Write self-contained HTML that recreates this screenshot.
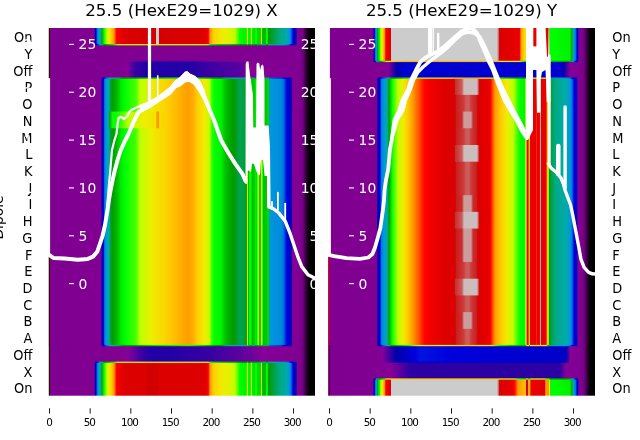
<!DOCTYPE html>
<html><head><meta charset="utf-8"><style>
html,body{margin:0;padding:0;background:#fff;}
svg{display:block;will-change:transform;}
.t{font-family:"DejaVu Sans","Liberation Sans",sans-serif;font-size:13.89px;fill:#000;}
.w{font-family:"DejaVu Sans","Liberation Sans",sans-serif;font-size:13.89px;fill:#fff;}
.xs{font-family:"DejaVu Sans","Liberation Sans",sans-serif;font-size:10.4px;fill:#000;letter-spacing:-1px;}
.ti{font-family:"DejaVu Sans","Liberation Sans",sans-serif;font-size:16.67px;fill:#000;}
</style></head><body>
<svg width="640" height="440" viewBox="0 0 640 440">
<defs>
<clipPath id="cL"><rect x="48" y="28" width="267" height="367.7"/></clipPath>
<clipPath id="cR"><rect x="328" y="28" width="267" height="367.7"/></clipPath>
<linearGradient id="Ld" gradientUnits="userSpaceOnUse" x1="48" y1="0" x2="315" y2="0"><stop offset="0.0000" stop-color="#ffc100"/><stop offset="0.0037" stop-color="#ffc100"/><stop offset="0.0037" stop-color="#ffc900"/><stop offset="0.0037" stop-color="#efed00"/><stop offset="0.0038" stop-color="#bcff00"/><stop offset="0.0038" stop-color="#00ff00"/><stop offset="0.0038" stop-color="#00dc00"/><stop offset="0.0038" stop-color="#00bc00"/><stop offset="0.0038" stop-color="#009a00"/><stop offset="0.0038" stop-color="#00aa88"/><stop offset="0.0038" stop-color="#00aaab"/><stop offset="0.0038" stop-color="#0098dd"/><stop offset="0.0038" stop-color="#0078dd"/><stop offset="0.0038" stop-color="#0000dd"/><stop offset="0.0038" stop-color="#0000bd"/><stop offset="0.0075" stop-color="#0000bd"/><stop offset="0.0075" stop-color="#0300aa"/><stop offset="0.0075" stop-color="#870098"/><stop offset="0.0075" stop-color="#7f0090"/><stop offset="0.1966" stop-color="#810092"/><stop offset="0.1982" stop-color="#870098"/><stop offset="0.2022" stop-color="#0300aa"/><stop offset="0.2022" stop-color="#0300aa"/><stop offset="0.2079" stop-color="#0000dd"/><stop offset="0.2119" stop-color="#0078dd"/><stop offset="0.2135" stop-color="#0085dd"/><stop offset="0.2182" stop-color="#0098dd"/><stop offset="0.2228" stop-color="#00a3bf"/><stop offset="0.2249" stop-color="#00aaab"/><stop offset="0.2301" stop-color="#00aa88"/><stop offset="0.2322" stop-color="#00a353"/><stop offset="0.2406" stop-color="#009a00"/><stop offset="0.2434" stop-color="#009f00"/><stop offset="0.2584" stop-color="#00bc00"/><stop offset="0.2691" stop-color="#00dc00"/><stop offset="0.2734" stop-color="#00ea00"/><stop offset="0.2884" stop-color="#00ff00"/><stop offset="0.2884" stop-color="#00ff00"/><stop offset="0.3296" stop-color="#49ff00"/><stop offset="0.3446" stop-color="#bcff00"/><stop offset="0.3745" stop-color="#dcf400"/><stop offset="0.3920" stop-color="#efed00"/><stop offset="0.4007" stop-color="#f1e700"/><stop offset="0.4382" stop-color="#fbd500"/><stop offset="0.4569" stop-color="#ffc900"/><stop offset="0.4757" stop-color="#ffbd00"/><stop offset="0.5056" stop-color="#ffa900"/><stop offset="0.5243" stop-color="#ff9d00"/><stop offset="0.5431" stop-color="#ffad00"/><stop offset="0.5571" stop-color="#ffc900"/><stop offset="0.5618" stop-color="#fcd200"/><stop offset="0.5880" stop-color="#efed00"/><stop offset="0.5880" stop-color="#efed00"/><stop offset="0.6030" stop-color="#c4fc00"/><stop offset="0.6052" stop-color="#bcff00"/><stop offset="0.6142" stop-color="#2cff00"/><stop offset="0.6255" stop-color="#00ff00"/><stop offset="0.6479" stop-color="#00f200"/><stop offset="0.6550" stop-color="#00dc00"/><stop offset="0.6667" stop-color="#00bc00"/><stop offset="0.6891" stop-color="#009f00"/><stop offset="0.6966" stop-color="#009a00"/><stop offset="0.7191" stop-color="#00a353"/><stop offset="0.7397" stop-color="#009f33"/><stop offset="0.7416" stop-color="#009a00"/><stop offset="0.7434" stop-color="#00a700"/><stop offset="0.7439" stop-color="#00bc00"/><stop offset="0.7446" stop-color="#00dc00"/><stop offset="0.7452" stop-color="#00ff00"/><stop offset="0.7459" stop-color="#bcff00"/><stop offset="0.7466" stop-color="#efed00"/><stop offset="0.7472" stop-color="#fcd200"/><stop offset="0.7478" stop-color="#efed00"/><stop offset="0.7486" stop-color="#bcff00"/><stop offset="0.7494" stop-color="#00ff00"/><stop offset="0.7502" stop-color="#00dc00"/><stop offset="0.7509" stop-color="#00bc00"/><stop offset="0.7528" stop-color="#00dc00"/><stop offset="0.7547" stop-color="#00ff00"/><stop offset="0.7603" stop-color="#00ff00"/><stop offset="0.7622" stop-color="#00dc00"/><stop offset="0.7640" stop-color="#00bc00"/><stop offset="0.7715" stop-color="#00ca00"/><stop offset="0.7749" stop-color="#00dc00"/><stop offset="0.7772" stop-color="#00ea00"/><stop offset="0.7828" stop-color="#00dc00"/><stop offset="0.7842" stop-color="#00ff00"/><stop offset="0.7856" stop-color="#bcff00"/><stop offset="0.7870" stop-color="#efed00"/><stop offset="0.7873" stop-color="#f1e700"/><stop offset="0.7875" stop-color="#efed00"/><stop offset="0.7888" stop-color="#bcff00"/><stop offset="0.7901" stop-color="#00ff00"/><stop offset="0.7914" stop-color="#00dc00"/><stop offset="0.7921" stop-color="#00ca00"/><stop offset="0.7970" stop-color="#00dc00"/><stop offset="0.7979" stop-color="#00ff00"/><stop offset="0.7987" stop-color="#bcff00"/><stop offset="0.7996" stop-color="#efed00"/><stop offset="0.8004" stop-color="#ffc900"/><stop offset="0.8007" stop-color="#ffb500"/><stop offset="0.8011" stop-color="#ffc900"/><stop offset="0.8019" stop-color="#efed00"/><stop offset="0.8027" stop-color="#bcff00"/><stop offset="0.8036" stop-color="#00ff00"/><stop offset="0.8044" stop-color="#00dc00"/><stop offset="0.8052" stop-color="#00bc00"/><stop offset="0.8202" stop-color="#00ca00"/><stop offset="0.8227" stop-color="#00dc00"/><stop offset="0.8251" stop-color="#00f200"/><stop offset="0.8256" stop-color="#00dc00"/><stop offset="0.8264" stop-color="#00bc00"/><stop offset="0.8272" stop-color="#009a00"/><stop offset="0.8280" stop-color="#00aa88"/><stop offset="0.8288" stop-color="#00aaab"/><stop offset="0.8296" stop-color="#0098dd"/><stop offset="0.8296" stop-color="#0098dd"/><stop offset="0.8727" stop-color="#008add"/><stop offset="0.8811" stop-color="#0078dd"/><stop offset="0.8951" stop-color="#0000dd"/><stop offset="0.9064" stop-color="#0000d1"/><stop offset="0.9109" stop-color="#0300aa"/><stop offset="0.9165" stop-color="#870098"/><stop offset="0.9176" stop-color="#850096"/><stop offset="0.9363" stop-color="#810092"/><stop offset="0.9476" stop-color="#7b008c"/><stop offset="0.9543" stop-color="#700080"/><stop offset="0.9588" stop-color="#5d006b"/><stop offset="0.9700" stop-color="#1c0020"/><stop offset="0.9813" stop-color="#000000"/><stop offset="1.0000" stop-color="#000000"/></linearGradient>
<linearGradient id="LdN" gradientUnits="userSpaceOnUse" x1="48" y1="0" x2="315" y2="0"><stop offset="0.0000" stop-color="#ffc100"/><stop offset="0.0037" stop-color="#ffc100"/><stop offset="0.0037" stop-color="#ffc900"/><stop offset="0.0037" stop-color="#efed00"/><stop offset="0.0038" stop-color="#bcff00"/><stop offset="0.0038" stop-color="#00ff00"/><stop offset="0.0038" stop-color="#00dc00"/><stop offset="0.0038" stop-color="#00bc00"/><stop offset="0.0038" stop-color="#009a00"/><stop offset="0.0038" stop-color="#00aa88"/><stop offset="0.0038" stop-color="#00aaab"/><stop offset="0.0038" stop-color="#0098dd"/><stop offset="0.0038" stop-color="#0078dd"/><stop offset="0.0038" stop-color="#0000dd"/><stop offset="0.0038" stop-color="#0000bd"/><stop offset="0.0075" stop-color="#0000bd"/><stop offset="0.0075" stop-color="#0300aa"/><stop offset="0.0075" stop-color="#870098"/><stop offset="0.0075" stop-color="#7f0090"/><stop offset="0.1966" stop-color="#810092"/><stop offset="0.1982" stop-color="#870098"/><stop offset="0.2022" stop-color="#0300aa"/><stop offset="0.2022" stop-color="#0300aa"/><stop offset="0.2079" stop-color="#0000dd"/><stop offset="0.2119" stop-color="#0078dd"/><stop offset="0.2135" stop-color="#0085dd"/><stop offset="0.2191" stop-color="#0098dd"/><stop offset="0.2247" stop-color="#00a3bf"/><stop offset="0.2258" stop-color="#00aaab"/><stop offset="0.2286" stop-color="#00aa88"/><stop offset="0.2313" stop-color="#009a00"/><stop offset="0.2341" stop-color="#00bc00"/><stop offset="0.2369" stop-color="#00dc00"/><stop offset="0.2397" stop-color="#00ff00"/><stop offset="0.2397" stop-color="#00ff00"/><stop offset="0.2697" stop-color="#2cff00"/><stop offset="0.2921" stop-color="#93ff00"/><stop offset="0.3034" stop-color="#bcff00"/><stop offset="0.3258" stop-color="#d0f800"/><stop offset="0.3633" stop-color="#efed00"/><stop offset="0.3633" stop-color="#efed00"/><stop offset="0.4045" stop-color="#f5df00"/><stop offset="0.4056" stop-color="#ffc900"/><stop offset="0.4075" stop-color="#ff9900"/><stop offset="0.4139" stop-color="#ff9900"/><stop offset="0.4160" stop-color="#ffc900"/><stop offset="0.4169" stop-color="#f8da00"/><stop offset="0.4382" stop-color="#fbd500"/><stop offset="0.4569" stop-color="#ffc900"/><stop offset="0.4757" stop-color="#ffbd00"/><stop offset="0.5056" stop-color="#ffa900"/><stop offset="0.5243" stop-color="#ff9d00"/><stop offset="0.5431" stop-color="#ffad00"/><stop offset="0.5571" stop-color="#ffc900"/><stop offset="0.5618" stop-color="#fcd200"/><stop offset="0.5880" stop-color="#efed00"/><stop offset="0.5880" stop-color="#efed00"/><stop offset="0.6030" stop-color="#c4fc00"/><stop offset="0.6052" stop-color="#bcff00"/><stop offset="0.6142" stop-color="#2cff00"/><stop offset="0.6255" stop-color="#00ff00"/><stop offset="0.6479" stop-color="#00f200"/><stop offset="0.6550" stop-color="#00dc00"/><stop offset="0.6667" stop-color="#00bc00"/><stop offset="0.6891" stop-color="#009f00"/><stop offset="0.6966" stop-color="#009a00"/><stop offset="0.7191" stop-color="#00a353"/><stop offset="0.7397" stop-color="#009f33"/><stop offset="0.7416" stop-color="#009a00"/><stop offset="0.7434" stop-color="#00a700"/><stop offset="0.7439" stop-color="#00bc00"/><stop offset="0.7446" stop-color="#00dc00"/><stop offset="0.7452" stop-color="#00ff00"/><stop offset="0.7459" stop-color="#bcff00"/><stop offset="0.7466" stop-color="#efed00"/><stop offset="0.7472" stop-color="#fcd200"/><stop offset="0.7478" stop-color="#efed00"/><stop offset="0.7486" stop-color="#bcff00"/><stop offset="0.7494" stop-color="#00ff00"/><stop offset="0.7502" stop-color="#00dc00"/><stop offset="0.7509" stop-color="#00bc00"/><stop offset="0.7528" stop-color="#00dc00"/><stop offset="0.7547" stop-color="#00ff00"/><stop offset="0.7603" stop-color="#00ff00"/><stop offset="0.7622" stop-color="#00dc00"/><stop offset="0.7640" stop-color="#00bc00"/><stop offset="0.7715" stop-color="#00ca00"/><stop offset="0.7749" stop-color="#00dc00"/><stop offset="0.7772" stop-color="#00ea00"/><stop offset="0.7828" stop-color="#00dc00"/><stop offset="0.7842" stop-color="#00ff00"/><stop offset="0.7856" stop-color="#bcff00"/><stop offset="0.7870" stop-color="#efed00"/><stop offset="0.7873" stop-color="#f1e700"/><stop offset="0.7875" stop-color="#efed00"/><stop offset="0.7888" stop-color="#bcff00"/><stop offset="0.7901" stop-color="#00ff00"/><stop offset="0.7914" stop-color="#00dc00"/><stop offset="0.7921" stop-color="#00ca00"/><stop offset="0.7970" stop-color="#00dc00"/><stop offset="0.7979" stop-color="#00ff00"/><stop offset="0.7987" stop-color="#bcff00"/><stop offset="0.7996" stop-color="#efed00"/><stop offset="0.8004" stop-color="#ffc900"/><stop offset="0.8007" stop-color="#ffb500"/><stop offset="0.8011" stop-color="#ffc900"/><stop offset="0.8019" stop-color="#efed00"/><stop offset="0.8027" stop-color="#bcff00"/><stop offset="0.8036" stop-color="#00ff00"/><stop offset="0.8044" stop-color="#00dc00"/><stop offset="0.8052" stop-color="#00bc00"/><stop offset="0.8202" stop-color="#00ca00"/><stop offset="0.8227" stop-color="#00dc00"/><stop offset="0.8251" stop-color="#00f200"/><stop offset="0.8256" stop-color="#00dc00"/><stop offset="0.8264" stop-color="#00bc00"/><stop offset="0.8272" stop-color="#009a00"/><stop offset="0.8280" stop-color="#00aa88"/><stop offset="0.8288" stop-color="#00aaab"/><stop offset="0.8296" stop-color="#0098dd"/><stop offset="0.8296" stop-color="#0098dd"/><stop offset="0.8727" stop-color="#008add"/><stop offset="0.8811" stop-color="#0078dd"/><stop offset="0.8951" stop-color="#0000dd"/><stop offset="0.9064" stop-color="#0000d1"/><stop offset="0.9109" stop-color="#0300aa"/><stop offset="0.9165" stop-color="#870098"/><stop offset="0.9176" stop-color="#850096"/><stop offset="0.9363" stop-color="#810092"/><stop offset="0.9476" stop-color="#7b008c"/><stop offset="0.9543" stop-color="#700080"/><stop offset="0.9588" stop-color="#5d006b"/><stop offset="0.9700" stop-color="#1c0020"/><stop offset="0.9813" stop-color="#000000"/><stop offset="1.0000" stop-color="#000000"/></linearGradient>
<linearGradient id="Lb" gradientUnits="userSpaceOnUse" x1="48" y1="0" x2="315" y2="0"><stop offset="0.0000" stop-color="#f5df00"/><stop offset="0.0037" stop-color="#f5df00"/><stop offset="0.0037" stop-color="#efed00"/><stop offset="0.0038" stop-color="#bcff00"/><stop offset="0.0038" stop-color="#00ff00"/><stop offset="0.0038" stop-color="#00dc00"/><stop offset="0.0038" stop-color="#00bc00"/><stop offset="0.0038" stop-color="#009a00"/><stop offset="0.0038" stop-color="#00aa88"/><stop offset="0.0038" stop-color="#00aaab"/><stop offset="0.0038" stop-color="#0098dd"/><stop offset="0.0038" stop-color="#0078dd"/><stop offset="0.0038" stop-color="#0000dd"/><stop offset="0.0038" stop-color="#0000bd"/><stop offset="0.0075" stop-color="#0000bd"/><stop offset="0.0075" stop-color="#0300aa"/><stop offset="0.0075" stop-color="#870098"/><stop offset="0.0075" stop-color="#7f0090"/><stop offset="0.1723" stop-color="#810092"/><stop offset="0.1734" stop-color="#870098"/><stop offset="0.1762" stop-color="#0300aa"/><stop offset="0.1779" stop-color="#0000c9"/><stop offset="0.1798" stop-color="#0000dd"/><stop offset="0.1845" stop-color="#0078dd"/><stop offset="0.1873" stop-color="#008add"/><stop offset="0.1891" stop-color="#0098dd"/><stop offset="0.1938" stop-color="#00aaab"/><stop offset="0.1985" stop-color="#00aa88"/><stop offset="0.2013" stop-color="#009a00"/><stop offset="0.2041" stop-color="#00bc00"/><stop offset="0.2069" stop-color="#00dc00"/><stop offset="0.2097" stop-color="#00ff00"/><stop offset="0.2097" stop-color="#00ff00"/><stop offset="0.2172" stop-color="#75ff00"/><stop offset="0.2204" stop-color="#bcff00"/><stop offset="0.2285" stop-color="#efed00"/><stop offset="0.2285" stop-color="#efed00"/><stop offset="0.2378" stop-color="#ffc900"/><stop offset="0.2434" stop-color="#ffad00"/><stop offset="0.2472" stop-color="#ff9900"/><stop offset="0.2566" stop-color="#fe0000"/><stop offset="0.2584" stop-color="#f60000"/><stop offset="0.2884" stop-color="#dc0000"/><stop offset="0.3670" stop-color="#dc0000"/><stop offset="0.3708" stop-color="#d20000"/><stop offset="0.4120" stop-color="#d20000"/><stop offset="0.4157" stop-color="#dc0000"/><stop offset="0.5880" stop-color="#dc0000"/><stop offset="0.5993" stop-color="#f60000"/><stop offset="0.6005" stop-color="#fe0000"/><stop offset="0.6067" stop-color="#ff9900"/><stop offset="0.6192" stop-color="#ffc900"/><stop offset="0.6217" stop-color="#fcd200"/><stop offset="0.6442" stop-color="#f1e700"/><stop offset="0.6567" stop-color="#efed00"/><stop offset="0.6816" stop-color="#dcf400"/><stop offset="0.7004" stop-color="#bcff00"/><stop offset="0.7191" stop-color="#00ff00"/><stop offset="0.7191" stop-color="#00ff00"/><stop offset="0.7378" stop-color="#00f200"/><stop offset="0.7434" stop-color="#00ff00"/><stop offset="0.7434" stop-color="#00ff00"/><stop offset="0.7453" stop-color="#bcff00"/><stop offset="0.7472" stop-color="#efed00"/><stop offset="0.7488" stop-color="#bcff00"/><stop offset="0.7503" stop-color="#00ff00"/><stop offset="0.7509" stop-color="#00f200"/><stop offset="0.7584" stop-color="#00ff00"/><stop offset="0.7584" stop-color="#00ff00"/><stop offset="0.7603" stop-color="#bcff00"/><stop offset="0.7622" stop-color="#efed00"/><stop offset="0.7637" stop-color="#bcff00"/><stop offset="0.7653" stop-color="#00ff00"/><stop offset="0.7659" stop-color="#00f200"/><stop offset="0.7753" stop-color="#00dc00"/><stop offset="0.7772" stop-color="#00ff00"/><stop offset="0.7790" stop-color="#bcff00"/><stop offset="0.7809" stop-color="#00ff00"/><stop offset="0.7828" stop-color="#00dc00"/><stop offset="0.7959" stop-color="#00dc00"/><stop offset="0.7971" stop-color="#00ff00"/><stop offset="0.7984" stop-color="#bcff00"/><stop offset="0.7996" stop-color="#efed00"/><stop offset="0.8006" stop-color="#bcff00"/><stop offset="0.8015" stop-color="#00ff00"/><stop offset="0.8024" stop-color="#00dc00"/><stop offset="0.8034" stop-color="#00bc00"/><stop offset="0.8165" stop-color="#00bc00"/><stop offset="0.8174" stop-color="#00dc00"/><stop offset="0.8184" stop-color="#00ff00"/><stop offset="0.8193" stop-color="#bcff00"/><stop offset="0.8202" stop-color="#efed00"/><stop offset="0.8210" stop-color="#bcff00"/><stop offset="0.8217" stop-color="#00ff00"/><stop offset="0.8225" stop-color="#00dc00"/><stop offset="0.8232" stop-color="#00bc00"/><stop offset="0.8240" stop-color="#009a00"/><stop offset="0.8694" stop-color="#00aa88"/><stop offset="0.8876" stop-color="#00aa95"/><stop offset="0.8933" stop-color="#00aaab"/><stop offset="0.9026" stop-color="#0098dd"/><stop offset="0.9026" stop-color="#0098dd"/><stop offset="0.9101" stop-color="#0078dd"/><stop offset="0.9176" stop-color="#0000dd"/><stop offset="0.9288" stop-color="#0300aa"/><stop offset="0.9288" stop-color="#0300aa"/><stop offset="0.9342" stop-color="#870098"/><stop offset="0.9363" stop-color="#810092"/><stop offset="0.9476" stop-color="#7f0090"/><stop offset="0.9476" stop-color="#7b008c"/><stop offset="0.9543" stop-color="#700080"/><stop offset="0.9588" stop-color="#5d006b"/><stop offset="0.9700" stop-color="#1c0020"/><stop offset="0.9813" stop-color="#000000"/><stop offset="1.0000" stop-color="#000000"/></linearGradient>
<linearGradient id="LbT" gradientUnits="userSpaceOnUse" x1="48" y1="0" x2="315" y2="0"><stop offset="0.0000" stop-color="#f5df00"/><stop offset="0.0037" stop-color="#f5df00"/><stop offset="0.0037" stop-color="#efed00"/><stop offset="0.0038" stop-color="#bcff00"/><stop offset="0.0038" stop-color="#00ff00"/><stop offset="0.0038" stop-color="#00dc00"/><stop offset="0.0038" stop-color="#00bc00"/><stop offset="0.0038" stop-color="#009a00"/><stop offset="0.0038" stop-color="#00aa88"/><stop offset="0.0038" stop-color="#00aaab"/><stop offset="0.0038" stop-color="#0098dd"/><stop offset="0.0038" stop-color="#0078dd"/><stop offset="0.0038" stop-color="#0000dd"/><stop offset="0.0038" stop-color="#0000bd"/><stop offset="0.0075" stop-color="#0000bd"/><stop offset="0.0075" stop-color="#0300aa"/><stop offset="0.0075" stop-color="#870098"/><stop offset="0.0075" stop-color="#7f0090"/><stop offset="0.1723" stop-color="#810092"/><stop offset="0.1734" stop-color="#870098"/><stop offset="0.1762" stop-color="#0300aa"/><stop offset="0.1779" stop-color="#0000c9"/><stop offset="0.1798" stop-color="#0000dd"/><stop offset="0.1845" stop-color="#0078dd"/><stop offset="0.1873" stop-color="#008add"/><stop offset="0.1891" stop-color="#0098dd"/><stop offset="0.1938" stop-color="#00aaab"/><stop offset="0.1985" stop-color="#00aa88"/><stop offset="0.2013" stop-color="#009a00"/><stop offset="0.2041" stop-color="#00bc00"/><stop offset="0.2069" stop-color="#00dc00"/><stop offset="0.2097" stop-color="#00ff00"/><stop offset="0.2097" stop-color="#00ff00"/><stop offset="0.2172" stop-color="#75ff00"/><stop offset="0.2204" stop-color="#bcff00"/><stop offset="0.2285" stop-color="#efed00"/><stop offset="0.2285" stop-color="#efed00"/><stop offset="0.2378" stop-color="#ffc900"/><stop offset="0.2434" stop-color="#ffad00"/><stop offset="0.2472" stop-color="#ff9900"/><stop offset="0.2566" stop-color="#fe0000"/><stop offset="0.2584" stop-color="#f60000"/><stop offset="0.2884" stop-color="#dc0000"/><stop offset="0.3708" stop-color="#d60000"/><stop offset="0.4026" stop-color="#d20000"/><stop offset="0.4032" stop-color="#cc0c0c"/><stop offset="0.4045" stop-color="#cccccc"/><stop offset="0.4150" stop-color="#cccccc"/><stop offset="0.4163" stop-color="#cc0c0c"/><stop offset="0.4169" stop-color="#d20000"/><stop offset="0.4382" stop-color="#d60000"/><stop offset="0.5880" stop-color="#dc0000"/><stop offset="0.5993" stop-color="#f60000"/><stop offset="0.6005" stop-color="#fe0000"/><stop offset="0.6067" stop-color="#ff9900"/><stop offset="0.6192" stop-color="#ffc900"/><stop offset="0.6217" stop-color="#fcd200"/><stop offset="0.6442" stop-color="#f1e700"/><stop offset="0.6567" stop-color="#efed00"/><stop offset="0.6816" stop-color="#dcf400"/><stop offset="0.7004" stop-color="#bcff00"/><stop offset="0.7191" stop-color="#00ff00"/><stop offset="0.7191" stop-color="#00ff00"/><stop offset="0.7378" stop-color="#00f200"/><stop offset="0.7434" stop-color="#00ff00"/><stop offset="0.7434" stop-color="#00ff00"/><stop offset="0.7453" stop-color="#bcff00"/><stop offset="0.7472" stop-color="#efed00"/><stop offset="0.7488" stop-color="#bcff00"/><stop offset="0.7503" stop-color="#00ff00"/><stop offset="0.7509" stop-color="#00f200"/><stop offset="0.7584" stop-color="#00ff00"/><stop offset="0.7584" stop-color="#00ff00"/><stop offset="0.7603" stop-color="#bcff00"/><stop offset="0.7622" stop-color="#efed00"/><stop offset="0.7637" stop-color="#bcff00"/><stop offset="0.7653" stop-color="#00ff00"/><stop offset="0.7659" stop-color="#00f200"/><stop offset="0.7753" stop-color="#00dc00"/><stop offset="0.7772" stop-color="#00ff00"/><stop offset="0.7790" stop-color="#bcff00"/><stop offset="0.7809" stop-color="#00ff00"/><stop offset="0.7828" stop-color="#00dc00"/><stop offset="0.7959" stop-color="#00dc00"/><stop offset="0.7971" stop-color="#00ff00"/><stop offset="0.7984" stop-color="#bcff00"/><stop offset="0.7996" stop-color="#efed00"/><stop offset="0.8006" stop-color="#bcff00"/><stop offset="0.8015" stop-color="#00ff00"/><stop offset="0.8024" stop-color="#00dc00"/><stop offset="0.8034" stop-color="#00bc00"/><stop offset="0.8165" stop-color="#00bc00"/><stop offset="0.8174" stop-color="#00dc00"/><stop offset="0.8184" stop-color="#00ff00"/><stop offset="0.8193" stop-color="#bcff00"/><stop offset="0.8202" stop-color="#efed00"/><stop offset="0.8210" stop-color="#bcff00"/><stop offset="0.8217" stop-color="#00ff00"/><stop offset="0.8225" stop-color="#00dc00"/><stop offset="0.8232" stop-color="#00bc00"/><stop offset="0.8240" stop-color="#009a00"/><stop offset="0.8694" stop-color="#00aa88"/><stop offset="0.8876" stop-color="#00aa95"/><stop offset="0.8933" stop-color="#00aaab"/><stop offset="0.9026" stop-color="#0098dd"/><stop offset="0.9026" stop-color="#0098dd"/><stop offset="0.9101" stop-color="#0078dd"/><stop offset="0.9176" stop-color="#0000dd"/><stop offset="0.9288" stop-color="#0300aa"/><stop offset="0.9288" stop-color="#0300aa"/><stop offset="0.9342" stop-color="#870098"/><stop offset="0.9363" stop-color="#810092"/><stop offset="0.9476" stop-color="#7b008c"/><stop offset="0.9476" stop-color="#7f0090"/><stop offset="0.9556" stop-color="#700080"/><stop offset="0.9588" stop-color="#5d006b"/><stop offset="0.9700" stop-color="#1c0020"/><stop offset="0.9813" stop-color="#000000"/><stop offset="1.0000" stop-color="#000000"/></linearGradient>
<linearGradient id="Lo1" gradientUnits="userSpaceOnUse" x1="48" y1="0" x2="315" y2="0"><stop offset="0.0000" stop-color="#f5df00"/><stop offset="0.0037" stop-color="#f5df00"/><stop offset="0.0037" stop-color="#efed00"/><stop offset="0.0038" stop-color="#bcff00"/><stop offset="0.0038" stop-color="#00ff00"/><stop offset="0.0038" stop-color="#00dc00"/><stop offset="0.0038" stop-color="#00bc00"/><stop offset="0.0038" stop-color="#009a00"/><stop offset="0.0038" stop-color="#00aa88"/><stop offset="0.0038" stop-color="#00aaab"/><stop offset="0.0038" stop-color="#0098dd"/><stop offset="0.0038" stop-color="#0078dd"/><stop offset="0.0038" stop-color="#0000dd"/><stop offset="0.0038" stop-color="#0000bd"/><stop offset="0.0075" stop-color="#0000bd"/><stop offset="0.0075" stop-color="#0300aa"/><stop offset="0.0075" stop-color="#870098"/><stop offset="0.0075" stop-color="#7f0090"/><stop offset="0.2772" stop-color="#810092"/><stop offset="0.2966" stop-color="#870098"/><stop offset="0.3258" stop-color="#3800a3"/><stop offset="0.3633" stop-color="#2300a6"/><stop offset="0.5318" stop-color="#2300a6"/><stop offset="0.5880" stop-color="#3800a3"/><stop offset="0.7191" stop-color="#58009f"/><stop offset="0.7566" stop-color="#870098"/><stop offset="0.7753" stop-color="#850096"/><stop offset="0.9064" stop-color="#810092"/><stop offset="0.9438" stop-color="#7f0090"/><stop offset="0.9476" stop-color="#7b008c"/><stop offset="0.9543" stop-color="#700080"/><stop offset="0.9588" stop-color="#5d006b"/><stop offset="0.9700" stop-color="#1c0020"/><stop offset="0.9813" stop-color="#000000"/><stop offset="1.0000" stop-color="#000000"/></linearGradient>
<linearGradient id="Lo2" gradientUnits="userSpaceOnUse" x1="48" y1="0" x2="315" y2="0"><stop offset="0.0000" stop-color="#f5df00"/><stop offset="0.0037" stop-color="#f5df00"/><stop offset="0.0037" stop-color="#efed00"/><stop offset="0.0038" stop-color="#bcff00"/><stop offset="0.0038" stop-color="#00ff00"/><stop offset="0.0038" stop-color="#00dc00"/><stop offset="0.0038" stop-color="#00bc00"/><stop offset="0.0038" stop-color="#009a00"/><stop offset="0.0038" stop-color="#00aa88"/><stop offset="0.0038" stop-color="#00aaab"/><stop offset="0.0038" stop-color="#0098dd"/><stop offset="0.0038" stop-color="#0078dd"/><stop offset="0.0038" stop-color="#0000dd"/><stop offset="0.0038" stop-color="#0000bd"/><stop offset="0.0075" stop-color="#0000bd"/><stop offset="0.0075" stop-color="#0300aa"/><stop offset="0.0075" stop-color="#870098"/><stop offset="0.0075" stop-color="#7f0090"/><stop offset="0.2622" stop-color="#810092"/><stop offset="0.2996" stop-color="#870098"/><stop offset="0.3446" stop-color="#4300a2"/><stop offset="0.3820" stop-color="#2300a6"/><stop offset="0.4569" stop-color="#2300a6"/><stop offset="0.6067" stop-color="#3800a3"/><stop offset="0.7640" stop-color="#6d009c"/><stop offset="0.8060" stop-color="#870098"/><stop offset="0.8689" stop-color="#820093"/><stop offset="0.9438" stop-color="#7f0090"/><stop offset="0.9476" stop-color="#7b008c"/><stop offset="0.9543" stop-color="#700080"/><stop offset="0.9588" stop-color="#5d006b"/><stop offset="0.9700" stop-color="#1c0020"/><stop offset="0.9813" stop-color="#000000"/><stop offset="1.0000" stop-color="#000000"/></linearGradient>
<linearGradient id="Lp" gradientUnits="userSpaceOnUse" x1="48" y1="0" x2="315" y2="0"><stop offset="0.0000" stop-color="#f5df00"/><stop offset="0.0037" stop-color="#f5df00"/><stop offset="0.0037" stop-color="#efed00"/><stop offset="0.0038" stop-color="#bcff00"/><stop offset="0.0038" stop-color="#00ff00"/><stop offset="0.0038" stop-color="#00dc00"/><stop offset="0.0038" stop-color="#00bc00"/><stop offset="0.0038" stop-color="#009a00"/><stop offset="0.0038" stop-color="#00aa88"/><stop offset="0.0038" stop-color="#00aaab"/><stop offset="0.0038" stop-color="#0098dd"/><stop offset="0.0038" stop-color="#0078dd"/><stop offset="0.0038" stop-color="#0000dd"/><stop offset="0.0038" stop-color="#0000bd"/><stop offset="0.0075" stop-color="#0000bd"/><stop offset="0.0075" stop-color="#0300aa"/><stop offset="0.0075" stop-color="#870098"/><stop offset="0.0075" stop-color="#7f0090"/><stop offset="0.9288" stop-color="#810092"/><stop offset="0.9438" stop-color="#7f0090"/><stop offset="0.9476" stop-color="#7b008c"/><stop offset="0.9543" stop-color="#700080"/><stop offset="0.9588" stop-color="#5d006b"/><stop offset="0.9700" stop-color="#1c0020"/><stop offset="0.9813" stop-color="#000000"/><stop offset="1.0000" stop-color="#000000"/></linearGradient>
<linearGradient id="Rd" gradientUnits="userSpaceOnUse" x1="328" y1="0" x2="595" y2="0"><stop offset="0.0000" stop-color="#e90000"/><stop offset="0.0037" stop-color="#e90000"/><stop offset="0.0037" stop-color="#fe0000"/><stop offset="0.0037" stop-color="#ff9900"/><stop offset="0.0038" stop-color="#ffc900"/><stop offset="0.0038" stop-color="#efed00"/><stop offset="0.0038" stop-color="#bcff00"/><stop offset="0.0038" stop-color="#00ff00"/><stop offset="0.0038" stop-color="#00dc00"/><stop offset="0.0038" stop-color="#00bc00"/><stop offset="0.0038" stop-color="#009a00"/><stop offset="0.0038" stop-color="#00aa88"/><stop offset="0.0038" stop-color="#00aaab"/><stop offset="0.0038" stop-color="#0098dd"/><stop offset="0.0038" stop-color="#0078dd"/><stop offset="0.0038" stop-color="#0000dd"/><stop offset="0.0038" stop-color="#0300aa"/><stop offset="0.0038" stop-color="#870098"/><stop offset="0.0038" stop-color="#7f0090"/><stop offset="0.1816" stop-color="#810092"/><stop offset="0.1829" stop-color="#870098"/><stop offset="0.1860" stop-color="#0300aa"/><stop offset="0.1873" stop-color="#0000bd"/><stop offset="0.1948" stop-color="#0000dd"/><stop offset="0.2001" stop-color="#0078dd"/><stop offset="0.2022" stop-color="#0085dd"/><stop offset="0.2097" stop-color="#0098dd"/><stop offset="0.2172" stop-color="#00a3bf"/><stop offset="0.2191" stop-color="#00aaab"/><stop offset="0.2238" stop-color="#00aa88"/><stop offset="0.2285" stop-color="#009a00"/><stop offset="0.2322" stop-color="#00bc00"/><stop offset="0.2360" stop-color="#00dc00"/><stop offset="0.2397" stop-color="#00ff00"/><stop offset="0.2397" stop-color="#00ff00"/><stop offset="0.2622" stop-color="#bcff00"/><stop offset="0.2809" stop-color="#efed00"/><stop offset="0.2809" stop-color="#efed00"/><stop offset="0.2996" stop-color="#ffc900"/><stop offset="0.3184" stop-color="#ff9900"/><stop offset="0.3371" stop-color="#ff5d00"/><stop offset="0.3596" stop-color="#ff0900"/><stop offset="0.3645" stop-color="#fe0000"/><stop offset="0.3745" stop-color="#f60000"/><stop offset="0.4382" stop-color="#dc0000"/><stop offset="0.4719" stop-color="#dc0000"/><stop offset="0.4787" stop-color="#cc0c0c"/><stop offset="0.4794" stop-color="#cc1c1c"/><stop offset="0.5094" stop-color="#cc3c3c"/><stop offset="0.5169" stop-color="#cc5c5c"/><stop offset="0.5281" stop-color="#cc5c5c"/><stop offset="0.5356" stop-color="#cc3c3c"/><stop offset="0.5581" stop-color="#cc1c1c"/><stop offset="0.5587" stop-color="#cc0c0c"/><stop offset="0.5655" stop-color="#dc0000"/><stop offset="0.6030" stop-color="#e90000"/><stop offset="0.6097" stop-color="#fe0000"/><stop offset="0.6142" stop-color="#ff3900"/><stop offset="0.6255" stop-color="#ff9900"/><stop offset="0.6330" stop-color="#ffad00"/><stop offset="0.6470" stop-color="#ffc900"/><stop offset="0.6517" stop-color="#fcd200"/><stop offset="0.6704" stop-color="#efed00"/><stop offset="0.6704" stop-color="#efed00"/><stop offset="0.6891" stop-color="#c4fc00"/><stop offset="0.6938" stop-color="#bcff00"/><stop offset="0.7079" stop-color="#49ff00"/><stop offset="0.7191" stop-color="#00ff00"/><stop offset="0.7191" stop-color="#00ff00"/><stop offset="0.7378" stop-color="#00f200"/><stop offset="0.7385" stop-color="#00ff00"/><stop offset="0.7400" stop-color="#bcff00"/><stop offset="0.7416" stop-color="#efed00"/><stop offset="0.7416" stop-color="#efed00"/><stop offset="0.7425" stop-color="#ffc900"/><stop offset="0.7434" stop-color="#ff9900"/><stop offset="0.7442" stop-color="#fe0000"/><stop offset="0.7450" stop-color="#dc0000"/><stop offset="0.7458" stop-color="#cc0c0c"/><stop offset="0.7461" stop-color="#cc5c5c"/><stop offset="0.7467" stop-color="#cc0c0c"/><stop offset="0.7484" stop-color="#dc0000"/><stop offset="0.7491" stop-color="#e90000"/><stop offset="0.7501" stop-color="#fe0000"/><stop offset="0.7519" stop-color="#ff9900"/><stop offset="0.7536" stop-color="#ffc900"/><stop offset="0.7547" stop-color="#f5df00"/><stop offset="0.7554" stop-color="#ffc900"/><stop offset="0.7566" stop-color="#ff9900"/><stop offset="0.7577" stop-color="#fe0000"/><stop offset="0.7584" stop-color="#e90000"/><stop offset="0.7772" stop-color="#e90000"/><stop offset="0.7779" stop-color="#fe0000"/><stop offset="0.7790" stop-color="#ff9900"/><stop offset="0.7814" stop-color="#fe0000"/><stop offset="0.7828" stop-color="#e90000"/><stop offset="0.7836" stop-color="#dc0000"/><stop offset="0.7857" stop-color="#cc0c0c"/><stop offset="0.7865" stop-color="#cc5c5c"/><stop offset="0.7869" stop-color="#cc0c0c"/><stop offset="0.7878" stop-color="#dc0000"/><stop offset="0.7887" stop-color="#fe0000"/><stop offset="0.7895" stop-color="#ff9900"/><stop offset="0.7903" stop-color="#ffc100"/><stop offset="0.7910" stop-color="#ff9900"/><stop offset="0.7920" stop-color="#fe0000"/><stop offset="0.7930" stop-color="#dc0000"/><stop offset="0.7940" stop-color="#cc0c0c"/><stop offset="0.7948" stop-color="#ccacac"/><stop offset="0.7978" stop-color="#ccacac"/><stop offset="0.7991" stop-color="#cc0c0c"/><stop offset="0.8008" stop-color="#dc0000"/><stop offset="0.8015" stop-color="#e90000"/><stop offset="0.8165" stop-color="#e90000"/><stop offset="0.8176" stop-color="#fe0000"/><stop offset="0.8195" stop-color="#ff9900"/><stop offset="0.8202" stop-color="#ffad00"/><stop offset="0.8221" stop-color="#ffc900"/><stop offset="0.8240" stop-color="#f5df00"/><stop offset="0.8244" stop-color="#efed00"/><stop offset="0.8255" stop-color="#bcff00"/><stop offset="0.8266" stop-color="#00ff00"/><stop offset="0.8277" stop-color="#00dc00"/><stop offset="0.8277" stop-color="#00bc00"/><stop offset="0.8277" stop-color="#009a00"/><stop offset="0.8390" stop-color="#00a353"/><stop offset="0.8539" stop-color="#00aa88"/><stop offset="0.8689" stop-color="#00aa95"/><stop offset="0.8914" stop-color="#00aaab"/><stop offset="0.8914" stop-color="#00aaab"/><stop offset="0.9064" stop-color="#0098dd"/><stop offset="0.9064" stop-color="#0098dd"/><stop offset="0.9139" stop-color="#0078dd"/><stop offset="0.9213" stop-color="#0000dd"/><stop offset="0.9307" stop-color="#0000c9"/><stop offset="0.9326" stop-color="#0300aa"/><stop offset="0.9357" stop-color="#870098"/><stop offset="0.9363" stop-color="#850096"/><stop offset="0.9438" stop-color="#810092"/><stop offset="0.9551" stop-color="#7a008b"/><stop offset="0.9596" stop-color="#700080"/><stop offset="0.9663" stop-color="#4b0055"/><stop offset="0.9775" stop-color="#130015"/><stop offset="0.9831" stop-color="#000000"/><stop offset="1.0000" stop-color="#000000"/></linearGradient>
<linearGradient id="RdG" gradientUnits="userSpaceOnUse" x1="328" y1="0" x2="595" y2="0"><stop offset="0.0000" stop-color="#e90000"/><stop offset="0.0037" stop-color="#e90000"/><stop offset="0.0037" stop-color="#fe0000"/><stop offset="0.0037" stop-color="#ff9900"/><stop offset="0.0038" stop-color="#ffc900"/><stop offset="0.0038" stop-color="#efed00"/><stop offset="0.0038" stop-color="#bcff00"/><stop offset="0.0038" stop-color="#00ff00"/><stop offset="0.0038" stop-color="#00dc00"/><stop offset="0.0038" stop-color="#00bc00"/><stop offset="0.0038" stop-color="#009a00"/><stop offset="0.0038" stop-color="#00aa88"/><stop offset="0.0038" stop-color="#00aaab"/><stop offset="0.0038" stop-color="#0098dd"/><stop offset="0.0038" stop-color="#0078dd"/><stop offset="0.0038" stop-color="#0000dd"/><stop offset="0.0038" stop-color="#0300aa"/><stop offset="0.0038" stop-color="#870098"/><stop offset="0.0038" stop-color="#7f0090"/><stop offset="0.1816" stop-color="#810092"/><stop offset="0.1829" stop-color="#870098"/><stop offset="0.1860" stop-color="#0300aa"/><stop offset="0.1873" stop-color="#0000bd"/><stop offset="0.1948" stop-color="#0000dd"/><stop offset="0.2001" stop-color="#0078dd"/><stop offset="0.2022" stop-color="#0085dd"/><stop offset="0.2097" stop-color="#0098dd"/><stop offset="0.2172" stop-color="#00a3bf"/><stop offset="0.2191" stop-color="#00aaab"/><stop offset="0.2238" stop-color="#00aa88"/><stop offset="0.2285" stop-color="#009a00"/><stop offset="0.2322" stop-color="#00bc00"/><stop offset="0.2360" stop-color="#00dc00"/><stop offset="0.2397" stop-color="#00ff00"/><stop offset="0.2397" stop-color="#00ff00"/><stop offset="0.2622" stop-color="#bcff00"/><stop offset="0.2809" stop-color="#efed00"/><stop offset="0.2809" stop-color="#efed00"/><stop offset="0.2996" stop-color="#ffc900"/><stop offset="0.3184" stop-color="#ff9900"/><stop offset="0.3371" stop-color="#ff5d00"/><stop offset="0.3596" stop-color="#ff0900"/><stop offset="0.3645" stop-color="#fe0000"/><stop offset="0.3745" stop-color="#f60000"/><stop offset="0.4382" stop-color="#dc0000"/><stop offset="0.4682" stop-color="#dc0000"/><stop offset="0.4744" stop-color="#cc0c0c"/><stop offset="0.4757" stop-color="#cc2c2c"/><stop offset="0.5019" stop-color="#cc5c5c"/><stop offset="0.5094" stop-color="#ccbcbc"/><stop offset="0.5581" stop-color="#ccbcbc"/><stop offset="0.5655" stop-color="#cc2c2c"/><stop offset="0.5665" stop-color="#cc0c0c"/><stop offset="0.5712" stop-color="#dc0000"/><stop offset="0.6030" stop-color="#e90000"/><stop offset="0.6097" stop-color="#fe0000"/><stop offset="0.6142" stop-color="#ff3900"/><stop offset="0.6255" stop-color="#ff9900"/><stop offset="0.6330" stop-color="#ffad00"/><stop offset="0.6470" stop-color="#ffc900"/><stop offset="0.6517" stop-color="#fcd200"/><stop offset="0.6704" stop-color="#efed00"/><stop offset="0.6704" stop-color="#efed00"/><stop offset="0.6891" stop-color="#c4fc00"/><stop offset="0.6938" stop-color="#bcff00"/><stop offset="0.7079" stop-color="#49ff00"/><stop offset="0.7191" stop-color="#00ff00"/><stop offset="0.7191" stop-color="#00ff00"/><stop offset="0.7378" stop-color="#00f200"/><stop offset="0.7385" stop-color="#00ff00"/><stop offset="0.7400" stop-color="#bcff00"/><stop offset="0.7416" stop-color="#efed00"/><stop offset="0.7416" stop-color="#efed00"/><stop offset="0.7425" stop-color="#ffc900"/><stop offset="0.7434" stop-color="#ff9900"/><stop offset="0.7442" stop-color="#fe0000"/><stop offset="0.7450" stop-color="#dc0000"/><stop offset="0.7458" stop-color="#cc0c0c"/><stop offset="0.7461" stop-color="#cc5c5c"/><stop offset="0.7467" stop-color="#cc0c0c"/><stop offset="0.7484" stop-color="#dc0000"/><stop offset="0.7491" stop-color="#e90000"/><stop offset="0.7501" stop-color="#fe0000"/><stop offset="0.7519" stop-color="#ff9900"/><stop offset="0.7536" stop-color="#ffc900"/><stop offset="0.7547" stop-color="#f5df00"/><stop offset="0.7554" stop-color="#ffc900"/><stop offset="0.7566" stop-color="#ff9900"/><stop offset="0.7577" stop-color="#fe0000"/><stop offset="0.7584" stop-color="#e90000"/><stop offset="0.7772" stop-color="#e90000"/><stop offset="0.7779" stop-color="#fe0000"/><stop offset="0.7790" stop-color="#ff9900"/><stop offset="0.7814" stop-color="#fe0000"/><stop offset="0.7828" stop-color="#e90000"/><stop offset="0.7836" stop-color="#dc0000"/><stop offset="0.7857" stop-color="#cc0c0c"/><stop offset="0.7865" stop-color="#cc5c5c"/><stop offset="0.7869" stop-color="#cc0c0c"/><stop offset="0.7878" stop-color="#dc0000"/><stop offset="0.7887" stop-color="#fe0000"/><stop offset="0.7895" stop-color="#ff9900"/><stop offset="0.7903" stop-color="#ffc100"/><stop offset="0.7910" stop-color="#ff9900"/><stop offset="0.7920" stop-color="#fe0000"/><stop offset="0.7930" stop-color="#dc0000"/><stop offset="0.7940" stop-color="#cc0c0c"/><stop offset="0.7948" stop-color="#ccacac"/><stop offset="0.7978" stop-color="#ccacac"/><stop offset="0.7991" stop-color="#cc0c0c"/><stop offset="0.8008" stop-color="#dc0000"/><stop offset="0.8015" stop-color="#e90000"/><stop offset="0.8165" stop-color="#e90000"/><stop offset="0.8176" stop-color="#fe0000"/><stop offset="0.8195" stop-color="#ff9900"/><stop offset="0.8202" stop-color="#ffad00"/><stop offset="0.8221" stop-color="#ffc900"/><stop offset="0.8240" stop-color="#f5df00"/><stop offset="0.8244" stop-color="#efed00"/><stop offset="0.8255" stop-color="#bcff00"/><stop offset="0.8266" stop-color="#00ff00"/><stop offset="0.8277" stop-color="#00dc00"/><stop offset="0.8277" stop-color="#00bc00"/><stop offset="0.8277" stop-color="#009a00"/><stop offset="0.8390" stop-color="#00a353"/><stop offset="0.8539" stop-color="#00aa88"/><stop offset="0.8689" stop-color="#00aa95"/><stop offset="0.8914" stop-color="#00aaab"/><stop offset="0.8914" stop-color="#00aaab"/><stop offset="0.9064" stop-color="#0098dd"/><stop offset="0.9064" stop-color="#0098dd"/><stop offset="0.9139" stop-color="#0078dd"/><stop offset="0.9213" stop-color="#0000dd"/><stop offset="0.9307" stop-color="#0000c9"/><stop offset="0.9326" stop-color="#0300aa"/><stop offset="0.9357" stop-color="#870098"/><stop offset="0.9363" stop-color="#850096"/><stop offset="0.9438" stop-color="#810092"/><stop offset="0.9551" stop-color="#7a008b"/><stop offset="0.9596" stop-color="#700080"/><stop offset="0.9663" stop-color="#4b0055"/><stop offset="0.9775" stop-color="#130015"/><stop offset="0.9831" stop-color="#000000"/><stop offset="1.0000" stop-color="#000000"/></linearGradient>
<linearGradient id="RdC" gradientUnits="userSpaceOnUse" x1="328" y1="0" x2="595" y2="0"><stop offset="0.0000" stop-color="#e90000"/><stop offset="0.0037" stop-color="#e90000"/><stop offset="0.0037" stop-color="#fe0000"/><stop offset="0.0037" stop-color="#ff9900"/><stop offset="0.0038" stop-color="#ffc900"/><stop offset="0.0038" stop-color="#efed00"/><stop offset="0.0038" stop-color="#bcff00"/><stop offset="0.0038" stop-color="#00ff00"/><stop offset="0.0038" stop-color="#00dc00"/><stop offset="0.0038" stop-color="#00bc00"/><stop offset="0.0038" stop-color="#009a00"/><stop offset="0.0038" stop-color="#00aa88"/><stop offset="0.0038" stop-color="#00aaab"/><stop offset="0.0038" stop-color="#0098dd"/><stop offset="0.0038" stop-color="#0078dd"/><stop offset="0.0038" stop-color="#0000dd"/><stop offset="0.0038" stop-color="#0300aa"/><stop offset="0.0038" stop-color="#870098"/><stop offset="0.0038" stop-color="#7f0090"/><stop offset="0.1816" stop-color="#810092"/><stop offset="0.1829" stop-color="#870098"/><stop offset="0.1860" stop-color="#0300aa"/><stop offset="0.1873" stop-color="#0000bd"/><stop offset="0.1948" stop-color="#0000dd"/><stop offset="0.2001" stop-color="#0078dd"/><stop offset="0.2022" stop-color="#0085dd"/><stop offset="0.2097" stop-color="#0098dd"/><stop offset="0.2172" stop-color="#00a3bf"/><stop offset="0.2191" stop-color="#00aaab"/><stop offset="0.2238" stop-color="#00aa88"/><stop offset="0.2285" stop-color="#009a00"/><stop offset="0.2322" stop-color="#00bc00"/><stop offset="0.2360" stop-color="#00dc00"/><stop offset="0.2397" stop-color="#00ff00"/><stop offset="0.2397" stop-color="#00ff00"/><stop offset="0.2622" stop-color="#bcff00"/><stop offset="0.2809" stop-color="#efed00"/><stop offset="0.2809" stop-color="#efed00"/><stop offset="0.2996" stop-color="#ffc900"/><stop offset="0.3184" stop-color="#ff9900"/><stop offset="0.3371" stop-color="#ff5d00"/><stop offset="0.3596" stop-color="#ff0900"/><stop offset="0.3645" stop-color="#fe0000"/><stop offset="0.3745" stop-color="#f60000"/><stop offset="0.4382" stop-color="#dc0000"/><stop offset="0.4719" stop-color="#dc0000"/><stop offset="0.4787" stop-color="#cc0c0c"/><stop offset="0.4794" stop-color="#cc1c1c"/><stop offset="0.5019" stop-color="#cc2c2c"/><stop offset="0.5094" stop-color="#cc9c9c"/><stop offset="0.5356" stop-color="#cc9c9c"/><stop offset="0.5431" stop-color="#cc2c2c"/><stop offset="0.5581" stop-color="#cc1c1c"/><stop offset="0.5587" stop-color="#cc0c0c"/><stop offset="0.5655" stop-color="#dc0000"/><stop offset="0.6030" stop-color="#e90000"/><stop offset="0.6097" stop-color="#fe0000"/><stop offset="0.6142" stop-color="#ff3900"/><stop offset="0.6255" stop-color="#ff9900"/><stop offset="0.6330" stop-color="#ffad00"/><stop offset="0.6470" stop-color="#ffc900"/><stop offset="0.6517" stop-color="#fcd200"/><stop offset="0.6704" stop-color="#efed00"/><stop offset="0.6704" stop-color="#efed00"/><stop offset="0.6891" stop-color="#c4fc00"/><stop offset="0.6938" stop-color="#bcff00"/><stop offset="0.7079" stop-color="#49ff00"/><stop offset="0.7191" stop-color="#00ff00"/><stop offset="0.7191" stop-color="#00ff00"/><stop offset="0.7378" stop-color="#00f200"/><stop offset="0.7385" stop-color="#00ff00"/><stop offset="0.7400" stop-color="#bcff00"/><stop offset="0.7416" stop-color="#efed00"/><stop offset="0.7416" stop-color="#efed00"/><stop offset="0.7425" stop-color="#ffc900"/><stop offset="0.7434" stop-color="#ff9900"/><stop offset="0.7442" stop-color="#fe0000"/><stop offset="0.7450" stop-color="#dc0000"/><stop offset="0.7458" stop-color="#cc0c0c"/><stop offset="0.7461" stop-color="#cc5c5c"/><stop offset="0.7467" stop-color="#cc0c0c"/><stop offset="0.7484" stop-color="#dc0000"/><stop offset="0.7491" stop-color="#e90000"/><stop offset="0.7501" stop-color="#fe0000"/><stop offset="0.7519" stop-color="#ff9900"/><stop offset="0.7536" stop-color="#ffc900"/><stop offset="0.7547" stop-color="#f5df00"/><stop offset="0.7554" stop-color="#ffc900"/><stop offset="0.7566" stop-color="#ff9900"/><stop offset="0.7577" stop-color="#fe0000"/><stop offset="0.7584" stop-color="#e90000"/><stop offset="0.7772" stop-color="#e90000"/><stop offset="0.7779" stop-color="#fe0000"/><stop offset="0.7790" stop-color="#ff9900"/><stop offset="0.7814" stop-color="#fe0000"/><stop offset="0.7828" stop-color="#e90000"/><stop offset="0.7836" stop-color="#dc0000"/><stop offset="0.7857" stop-color="#cc0c0c"/><stop offset="0.7865" stop-color="#cc5c5c"/><stop offset="0.7869" stop-color="#cc0c0c"/><stop offset="0.7878" stop-color="#dc0000"/><stop offset="0.7887" stop-color="#fe0000"/><stop offset="0.7895" stop-color="#ff9900"/><stop offset="0.7903" stop-color="#ffc100"/><stop offset="0.7910" stop-color="#ff9900"/><stop offset="0.7920" stop-color="#fe0000"/><stop offset="0.7930" stop-color="#dc0000"/><stop offset="0.7940" stop-color="#cc0c0c"/><stop offset="0.7948" stop-color="#ccacac"/><stop offset="0.7978" stop-color="#ccacac"/><stop offset="0.7991" stop-color="#cc0c0c"/><stop offset="0.8008" stop-color="#dc0000"/><stop offset="0.8015" stop-color="#e90000"/><stop offset="0.8165" stop-color="#e90000"/><stop offset="0.8176" stop-color="#fe0000"/><stop offset="0.8195" stop-color="#ff9900"/><stop offset="0.8202" stop-color="#ffad00"/><stop offset="0.8221" stop-color="#ffc900"/><stop offset="0.8240" stop-color="#f5df00"/><stop offset="0.8244" stop-color="#efed00"/><stop offset="0.8255" stop-color="#bcff00"/><stop offset="0.8266" stop-color="#00ff00"/><stop offset="0.8277" stop-color="#00dc00"/><stop offset="0.8277" stop-color="#00bc00"/><stop offset="0.8277" stop-color="#009a00"/><stop offset="0.8390" stop-color="#00a353"/><stop offset="0.8539" stop-color="#00aa88"/><stop offset="0.8689" stop-color="#00aa95"/><stop offset="0.8914" stop-color="#00aaab"/><stop offset="0.8914" stop-color="#00aaab"/><stop offset="0.9064" stop-color="#0098dd"/><stop offset="0.9064" stop-color="#0098dd"/><stop offset="0.9139" stop-color="#0078dd"/><stop offset="0.9213" stop-color="#0000dd"/><stop offset="0.9307" stop-color="#0000c9"/><stop offset="0.9326" stop-color="#0300aa"/><stop offset="0.9357" stop-color="#870098"/><stop offset="0.9363" stop-color="#850096"/><stop offset="0.9438" stop-color="#810092"/><stop offset="0.9551" stop-color="#7a008b"/><stop offset="0.9596" stop-color="#700080"/><stop offset="0.9663" stop-color="#4b0055"/><stop offset="0.9775" stop-color="#130015"/><stop offset="0.9831" stop-color="#000000"/><stop offset="1.0000" stop-color="#000000"/></linearGradient>
<linearGradient id="Rb" gradientUnits="userSpaceOnUse" x1="328" y1="0" x2="595" y2="0"><stop offset="0.0000" stop-color="#e90000"/><stop offset="0.0037" stop-color="#e90000"/><stop offset="0.0037" stop-color="#fe0000"/><stop offset="0.0037" stop-color="#ff9900"/><stop offset="0.0038" stop-color="#ffc900"/><stop offset="0.0038" stop-color="#efed00"/><stop offset="0.0038" stop-color="#bcff00"/><stop offset="0.0038" stop-color="#00ff00"/><stop offset="0.0038" stop-color="#00dc00"/><stop offset="0.0038" stop-color="#00bc00"/><stop offset="0.0038" stop-color="#009a00"/><stop offset="0.0038" stop-color="#00aa88"/><stop offset="0.0038" stop-color="#00aaab"/><stop offset="0.0038" stop-color="#0098dd"/><stop offset="0.0038" stop-color="#0078dd"/><stop offset="0.0038" stop-color="#0000dd"/><stop offset="0.0038" stop-color="#0000bd"/><stop offset="0.0075" stop-color="#0000bd"/><stop offset="0.0075" stop-color="#0300aa"/><stop offset="0.0075" stop-color="#870098"/><stop offset="0.0075" stop-color="#7f0090"/><stop offset="0.1685" stop-color="#810092"/><stop offset="0.1693" stop-color="#870098"/><stop offset="0.1712" stop-color="#0300aa"/><stop offset="0.1723" stop-color="#0000c9"/><stop offset="0.1738" stop-color="#0000dd"/><stop offset="0.1775" stop-color="#0078dd"/><stop offset="0.1798" stop-color="#008add"/><stop offset="0.1805" stop-color="#0098dd"/><stop offset="0.1822" stop-color="#00aaab"/><stop offset="0.1839" stop-color="#00aa88"/><stop offset="0.1857" stop-color="#009a00"/><stop offset="0.1874" stop-color="#00bc00"/><stop offset="0.1891" stop-color="#00dc00"/><stop offset="0.1935" stop-color="#00ff00"/><stop offset="0.1979" stop-color="#bcff00"/><stop offset="0.2022" stop-color="#efed00"/><stop offset="0.2022" stop-color="#efed00"/><stop offset="0.2069" stop-color="#ffc900"/><stop offset="0.2097" stop-color="#ffad00"/><stop offset="0.2116" stop-color="#ff9900"/><stop offset="0.2163" stop-color="#fe0000"/><stop offset="0.2172" stop-color="#f60000"/><stop offset="0.2341" stop-color="#dc0000"/><stop offset="0.2360" stop-color="#cc0c0c"/><stop offset="0.2378" stop-color="#cccccc"/><stop offset="0.6330" stop-color="#cccccc"/><stop offset="0.6404" stop-color="#cc4c4c"/><stop offset="0.6422" stop-color="#cc0c0c"/><stop offset="0.6479" stop-color="#dc0000"/><stop offset="0.7154" stop-color="#e90000"/><stop offset="0.7182" stop-color="#fe0000"/><stop offset="0.7228" stop-color="#ff9900"/><stop offset="0.7322" stop-color="#ffc900"/><stop offset="0.7341" stop-color="#fcd200"/><stop offset="0.7416" stop-color="#efed00"/><stop offset="0.7416" stop-color="#efed00"/><stop offset="0.7678" stop-color="#efed00"/><stop offset="0.7678" stop-color="#efed00"/><stop offset="0.7699" stop-color="#ffc900"/><stop offset="0.7720" stop-color="#ff9900"/><stop offset="0.7740" stop-color="#fe0000"/><stop offset="0.7753" stop-color="#e90000"/><stop offset="0.7765" stop-color="#fe0000"/><stop offset="0.7786" stop-color="#ff9900"/><stop offset="0.7807" stop-color="#ffc900"/><stop offset="0.7828" stop-color="#efed00"/><stop offset="0.7828" stop-color="#efed00"/><stop offset="0.8165" stop-color="#efed00"/><stop offset="0.8165" stop-color="#efed00"/><stop offset="0.8180" stop-color="#ffc900"/><stop offset="0.8196" stop-color="#ff9900"/><stop offset="0.8212" stop-color="#fe0000"/><stop offset="0.8221" stop-color="#e90000"/><stop offset="0.8227" stop-color="#fe0000"/><stop offset="0.8237" stop-color="#ff9900"/><stop offset="0.8247" stop-color="#ffc900"/><stop offset="0.8257" stop-color="#efed00"/><stop offset="0.8267" stop-color="#bcff00"/><stop offset="0.8277" stop-color="#00ff00"/><stop offset="0.8277" stop-color="#00ff00"/><stop offset="0.9064" stop-color="#00f200"/><stop offset="0.9081" stop-color="#00dc00"/><stop offset="0.9110" stop-color="#00bc00"/><stop offset="0.9139" stop-color="#009a00"/><stop offset="0.9164" stop-color="#00aa88"/><stop offset="0.9189" stop-color="#00aaab"/><stop offset="0.9213" stop-color="#0098dd"/><stop offset="0.9213" stop-color="#0098dd"/><stop offset="0.9270" stop-color="#0078dd"/><stop offset="0.9326" stop-color="#0000dd"/><stop offset="0.9360" stop-color="#0300aa"/><stop offset="0.9394" stop-color="#870098"/><stop offset="0.9401" stop-color="#850096"/><stop offset="0.9438" stop-color="#810092"/><stop offset="0.9551" stop-color="#7a008b"/><stop offset="0.9596" stop-color="#700080"/><stop offset="0.9663" stop-color="#4b0055"/><stop offset="0.9775" stop-color="#130015"/><stop offset="0.9831" stop-color="#000000"/><stop offset="1.0000" stop-color="#000000"/></linearGradient>
<linearGradient id="RbB" gradientUnits="userSpaceOnUse" x1="328" y1="0" x2="595" y2="0"><stop offset="0.0000" stop-color="#e90000"/><stop offset="0.0037" stop-color="#e90000"/><stop offset="0.0037" stop-color="#fe0000"/><stop offset="0.0037" stop-color="#ff9900"/><stop offset="0.0038" stop-color="#ffc900"/><stop offset="0.0038" stop-color="#efed00"/><stop offset="0.0038" stop-color="#bcff00"/><stop offset="0.0038" stop-color="#00ff00"/><stop offset="0.0038" stop-color="#00dc00"/><stop offset="0.0038" stop-color="#00bc00"/><stop offset="0.0038" stop-color="#009a00"/><stop offset="0.0038" stop-color="#00aa88"/><stop offset="0.0038" stop-color="#00aaab"/><stop offset="0.0038" stop-color="#0098dd"/><stop offset="0.0038" stop-color="#0078dd"/><stop offset="0.0038" stop-color="#0000dd"/><stop offset="0.0038" stop-color="#0000bd"/><stop offset="0.0075" stop-color="#0000bd"/><stop offset="0.0075" stop-color="#0300aa"/><stop offset="0.0075" stop-color="#870098"/><stop offset="0.0075" stop-color="#7f0090"/><stop offset="0.1685" stop-color="#810092"/><stop offset="0.1693" stop-color="#870098"/><stop offset="0.1712" stop-color="#0300aa"/><stop offset="0.1723" stop-color="#0000c9"/><stop offset="0.1738" stop-color="#0000dd"/><stop offset="0.1775" stop-color="#0078dd"/><stop offset="0.1798" stop-color="#008add"/><stop offset="0.1805" stop-color="#0098dd"/><stop offset="0.1822" stop-color="#00aaab"/><stop offset="0.1839" stop-color="#00aa88"/><stop offset="0.1857" stop-color="#009a00"/><stop offset="0.1874" stop-color="#00bc00"/><stop offset="0.1891" stop-color="#00dc00"/><stop offset="0.1935" stop-color="#00ff00"/><stop offset="0.1979" stop-color="#bcff00"/><stop offset="0.2022" stop-color="#efed00"/><stop offset="0.2022" stop-color="#efed00"/><stop offset="0.2069" stop-color="#ffc900"/><stop offset="0.2097" stop-color="#ffad00"/><stop offset="0.2116" stop-color="#ff9900"/><stop offset="0.2163" stop-color="#fe0000"/><stop offset="0.2172" stop-color="#f60000"/><stop offset="0.2341" stop-color="#dc0000"/><stop offset="0.2360" stop-color="#cc0c0c"/><stop offset="0.2378" stop-color="#cccccc"/><stop offset="0.6330" stop-color="#cccccc"/><stop offset="0.6404" stop-color="#cc4c4c"/><stop offset="0.6422" stop-color="#cc0c0c"/><stop offset="0.6479" stop-color="#dc0000"/><stop offset="0.6891" stop-color="#e90000"/><stop offset="0.6976" stop-color="#fe0000"/><stop offset="0.7004" stop-color="#ff1500"/><stop offset="0.7116" stop-color="#ff9900"/><stop offset="0.7416" stop-color="#ffc100"/><stop offset="0.7421" stop-color="#ff9900"/><stop offset="0.7428" stop-color="#fe0000"/><stop offset="0.7434" stop-color="#dc0000"/><stop offset="0.7472" stop-color="#dc0000"/><stop offset="0.7480" stop-color="#fe0000"/><stop offset="0.7488" stop-color="#ff9900"/><stop offset="0.7491" stop-color="#ffad00"/><stop offset="0.7566" stop-color="#ffad00"/><stop offset="0.7573" stop-color="#ff9900"/><stop offset="0.7592" stop-color="#fe0000"/><stop offset="0.7603" stop-color="#e90000"/><stop offset="0.7940" stop-color="#e90000"/><stop offset="0.7946" stop-color="#dc0000"/><stop offset="0.7959" stop-color="#cc0c0c"/><stop offset="0.7970" stop-color="#ccacac"/><stop offset="0.7980" stop-color="#cc0c0c"/><stop offset="0.7991" stop-color="#dc0000"/><stop offset="0.7996" stop-color="#e90000"/><stop offset="0.8127" stop-color="#dc0000"/><stop offset="0.8138" stop-color="#fe0000"/><stop offset="0.8148" stop-color="#ff9900"/><stop offset="0.8159" stop-color="#ffc900"/><stop offset="0.8165" stop-color="#f5df00"/><stop offset="0.8172" stop-color="#ffc900"/><stop offset="0.8184" stop-color="#ff9900"/><stop offset="0.8195" stop-color="#fe0000"/><stop offset="0.8202" stop-color="#e90000"/><stop offset="0.8209" stop-color="#fe0000"/><stop offset="0.8221" stop-color="#ff9900"/><stop offset="0.8233" stop-color="#ffc900"/><stop offset="0.8240" stop-color="#f5df00"/><stop offset="0.8247" stop-color="#ffc900"/><stop offset="0.8258" stop-color="#ff9900"/><stop offset="0.8270" stop-color="#fe0000"/><stop offset="0.8277" stop-color="#e90000"/><stop offset="0.8280" stop-color="#fe0000"/><stop offset="0.8286" stop-color="#ff9900"/><stop offset="0.8291" stop-color="#ffc900"/><stop offset="0.8296" stop-color="#efed00"/><stop offset="0.8302" stop-color="#bcff00"/><stop offset="0.8307" stop-color="#00ff00"/><stop offset="0.8307" stop-color="#00ff00"/><stop offset="0.9064" stop-color="#00f200"/><stop offset="0.9081" stop-color="#00dc00"/><stop offset="0.9110" stop-color="#00bc00"/><stop offset="0.9139" stop-color="#009a00"/><stop offset="0.9164" stop-color="#00aa88"/><stop offset="0.9189" stop-color="#00aaab"/><stop offset="0.9213" stop-color="#0098dd"/><stop offset="0.9213" stop-color="#0098dd"/><stop offset="0.9270" stop-color="#0078dd"/><stop offset="0.9326" stop-color="#0000dd"/><stop offset="0.9360" stop-color="#0300aa"/><stop offset="0.9394" stop-color="#870098"/><stop offset="0.9401" stop-color="#850096"/><stop offset="0.9438" stop-color="#810092"/><stop offset="0.9551" stop-color="#7a008b"/><stop offset="0.9596" stop-color="#700080"/><stop offset="0.9663" stop-color="#4b0055"/><stop offset="0.9775" stop-color="#130015"/><stop offset="0.9831" stop-color="#000000"/><stop offset="1.0000" stop-color="#000000"/></linearGradient>
<linearGradient id="Ro1" gradientUnits="userSpaceOnUse" x1="328" y1="0" x2="595" y2="0"><stop offset="0.0000" stop-color="#7f0090"/><stop offset="0.2135" stop-color="#810092"/><stop offset="0.2260" stop-color="#870098"/><stop offset="0.2572" stop-color="#0300aa"/><stop offset="0.2697" stop-color="#0000bd"/><stop offset="0.2884" stop-color="#0000d1"/><stop offset="0.8689" stop-color="#0000d1"/><stop offset="0.8839" stop-color="#0300aa"/><stop offset="0.8914" stop-color="#3800a3"/><stop offset="0.9082" stop-color="#870098"/><stop offset="0.9139" stop-color="#850096"/><stop offset="0.9438" stop-color="#810092"/><stop offset="0.9551" stop-color="#7a008b"/><stop offset="0.9596" stop-color="#700080"/><stop offset="0.9663" stop-color="#4b0055"/><stop offset="0.9775" stop-color="#130015"/><stop offset="0.9831" stop-color="#000000"/><stop offset="1.0000" stop-color="#000000"/></linearGradient>
<linearGradient id="Ro2" gradientUnits="userSpaceOnUse" x1="328" y1="0" x2="595" y2="0"><stop offset="0.0000" stop-color="#e90000"/><stop offset="0.0037" stop-color="#e90000"/><stop offset="0.0037" stop-color="#fe0000"/><stop offset="0.0037" stop-color="#ff9900"/><stop offset="0.0038" stop-color="#ffc900"/><stop offset="0.0038" stop-color="#efed00"/><stop offset="0.0038" stop-color="#bcff00"/><stop offset="0.0038" stop-color="#00ff00"/><stop offset="0.0038" stop-color="#00dc00"/><stop offset="0.0038" stop-color="#00bc00"/><stop offset="0.0038" stop-color="#009a00"/><stop offset="0.0038" stop-color="#00aa88"/><stop offset="0.0038" stop-color="#00aaab"/><stop offset="0.0038" stop-color="#0098dd"/><stop offset="0.0038" stop-color="#0078dd"/><stop offset="0.0038" stop-color="#0000dd"/><stop offset="0.0038" stop-color="#0000bd"/><stop offset="0.0075" stop-color="#0000bd"/><stop offset="0.0075" stop-color="#0300aa"/><stop offset="0.0075" stop-color="#870098"/><stop offset="0.0075" stop-color="#7f0090"/><stop offset="0.1835" stop-color="#810092"/><stop offset="0.2032" stop-color="#870098"/><stop offset="0.2523" stop-color="#0300aa"/><stop offset="0.2622" stop-color="#0000b1"/><stop offset="0.3281" stop-color="#0000dd"/><stop offset="0.3446" stop-color="#0013dd"/><stop offset="0.4569" stop-color="#0000dd"/><stop offset="0.6442" stop-color="#0000d1"/><stop offset="0.8876" stop-color="#0000c9"/><stop offset="0.8947" stop-color="#0300aa"/><stop offset="0.9064" stop-color="#870098"/><stop offset="0.9438" stop-color="#810092"/><stop offset="0.9551" stop-color="#7a008b"/><stop offset="0.9596" stop-color="#700080"/><stop offset="0.9663" stop-color="#4b0055"/><stop offset="0.9775" stop-color="#130015"/><stop offset="0.9831" stop-color="#000000"/><stop offset="1.0000" stop-color="#000000"/></linearGradient>
<linearGradient id="Rx" gradientUnits="userSpaceOnUse" x1="328" y1="0" x2="595" y2="0"><stop offset="0.0000" stop-color="#e90000"/><stop offset="0.0037" stop-color="#e90000"/><stop offset="0.0037" stop-color="#fe0000"/><stop offset="0.0037" stop-color="#ff9900"/><stop offset="0.0038" stop-color="#ffc900"/><stop offset="0.0038" stop-color="#efed00"/><stop offset="0.0038" stop-color="#bcff00"/><stop offset="0.0038" stop-color="#00ff00"/><stop offset="0.0038" stop-color="#00dc00"/><stop offset="0.0038" stop-color="#00bc00"/><stop offset="0.0038" stop-color="#009a00"/><stop offset="0.0038" stop-color="#00aa88"/><stop offset="0.0038" stop-color="#00aaab"/><stop offset="0.0038" stop-color="#0098dd"/><stop offset="0.0038" stop-color="#0078dd"/><stop offset="0.0038" stop-color="#0000dd"/><stop offset="0.0038" stop-color="#0000bd"/><stop offset="0.0075" stop-color="#0000bd"/><stop offset="0.0075" stop-color="#0300aa"/><stop offset="0.0075" stop-color="#870098"/><stop offset="0.0075" stop-color="#7f0090"/><stop offset="0.1948" stop-color="#810092"/><stop offset="0.2356" stop-color="#870098"/><stop offset="0.3071" stop-color="#2d00a4"/><stop offset="0.8689" stop-color="#2d00a4"/><stop offset="0.8922" stop-color="#870098"/><stop offset="0.8989" stop-color="#850096"/><stop offset="0.9438" stop-color="#810092"/><stop offset="0.9551" stop-color="#7a008b"/><stop offset="0.9596" stop-color="#700080"/><stop offset="0.9663" stop-color="#4b0055"/><stop offset="0.9775" stop-color="#130015"/><stop offset="0.9831" stop-color="#000000"/><stop offset="1.0000" stop-color="#000000"/></linearGradient>
<linearGradient id="bd1" gradientUnits="userSpaceOnUse" x1="48" y1="0" x2="315" y2="0"><stop offset="0.0000" stop-color="#f5df00"/><stop offset="0.0037" stop-color="#f5df00"/><stop offset="0.0037" stop-color="#efed00"/><stop offset="0.0038" stop-color="#bcff00"/><stop offset="0.0038" stop-color="#00ff00"/><stop offset="0.0038" stop-color="#00dc00"/><stop offset="0.0038" stop-color="#00bc00"/><stop offset="0.0038" stop-color="#009a00"/><stop offset="0.0038" stop-color="#00aa88"/><stop offset="0.0038" stop-color="#00aaab"/><stop offset="0.0038" stop-color="#0098dd"/><stop offset="0.0038" stop-color="#0078dd"/><stop offset="0.0038" stop-color="#0000dd"/><stop offset="0.0038" stop-color="#0000bd"/><stop offset="0.0075" stop-color="#0000bd"/><stop offset="0.0075" stop-color="#0300aa"/><stop offset="0.0075" stop-color="#870098"/><stop offset="0.0075" stop-color="#7f0090"/><stop offset="0.1723" stop-color="#810092"/><stop offset="0.1739" stop-color="#870098"/><stop offset="0.1778" stop-color="#0300aa"/><stop offset="0.1779" stop-color="#0300aa"/><stop offset="0.1843" stop-color="#0000dd"/><stop offset="0.1873" stop-color="#0038dd"/><stop offset="0.1908" stop-color="#0078dd"/><stop offset="0.1973" stop-color="#0098dd"/><stop offset="0.1985" stop-color="#009cd3"/><stop offset="0.2017" stop-color="#00aaab"/><stop offset="0.2056" stop-color="#00aa88"/><stop offset="0.2095" stop-color="#009a00"/><stop offset="0.2097" stop-color="#009c00"/><stop offset="0.2172" stop-color="#00aa00"/><stop offset="0.2228" stop-color="#00bc00"/><stop offset="0.2285" stop-color="#00cc00"/><stop offset="0.2349" stop-color="#00dc00"/><stop offset="0.2434" stop-color="#00f400"/><stop offset="0.2479" stop-color="#00ff00"/><stop offset="0.2584" stop-color="#93ff00"/><stop offset="0.2682" stop-color="#bcff00"/><stop offset="0.2884" stop-color="#d0f800"/><stop offset="0.3670" stop-color="#d0f800"/><stop offset="0.3708" stop-color="#e4f100"/><stop offset="0.4120" stop-color="#e4f100"/><stop offset="0.4157" stop-color="#d0f800"/><stop offset="0.5880" stop-color="#d0f800"/><stop offset="0.5958" stop-color="#bcff00"/><stop offset="0.5993" stop-color="#a1ff00"/><stop offset="0.6064" stop-color="#00ff00"/><stop offset="0.6067" stop-color="#00ff00"/><stop offset="0.6217" stop-color="#00e200"/><stop offset="0.6267" stop-color="#00dc00"/><stop offset="0.6442" stop-color="#00d200"/><stop offset="0.6816" stop-color="#00c200"/><stop offset="0.6917" stop-color="#00bc00"/><stop offset="0.7004" stop-color="#00b400"/><stop offset="0.7191" stop-color="#009c00"/><stop offset="0.7244" stop-color="#009a00"/><stop offset="0.7378" stop-color="#009d1d"/><stop offset="0.7418" stop-color="#009a00"/><stop offset="0.7434" stop-color="#009c00"/><stop offset="0.7458" stop-color="#00bc00"/><stop offset="0.7472" stop-color="#00cc00"/><stop offset="0.7483" stop-color="#00bc00"/><stop offset="0.7505" stop-color="#009a00"/><stop offset="0.7509" stop-color="#009d1d"/><stop offset="0.7563" stop-color="#009a00"/><stop offset="0.7584" stop-color="#009c00"/><stop offset="0.7608" stop-color="#00bc00"/><stop offset="0.7622" stop-color="#00cc00"/><stop offset="0.7633" stop-color="#00bc00"/><stop offset="0.7655" stop-color="#009a00"/><stop offset="0.7659" stop-color="#009d1d"/><stop offset="0.7753" stop-color="#00a353"/><stop offset="0.7769" stop-color="#009a00"/><stop offset="0.7790" stop-color="#00b400"/><stop offset="0.7811" stop-color="#009a00"/><stop offset="0.7828" stop-color="#00a353"/><stop offset="0.7959" stop-color="#00a353"/><stop offset="0.7970" stop-color="#009a00"/><stop offset="0.7987" stop-color="#00bc00"/><stop offset="0.7996" stop-color="#00cc00"/><stop offset="0.8003" stop-color="#00bc00"/><stop offset="0.8016" stop-color="#009a00"/><stop offset="0.8029" stop-color="#00aa88"/><stop offset="0.8034" stop-color="#00aa95"/><stop offset="0.8165" stop-color="#00aa95"/><stop offset="0.8169" stop-color="#00aa88"/><stop offset="0.8182" stop-color="#009a00"/><stop offset="0.8195" stop-color="#00bc00"/><stop offset="0.8202" stop-color="#00cc00"/><stop offset="0.8208" stop-color="#00bc00"/><stop offset="0.8218" stop-color="#009a00"/><stop offset="0.8229" stop-color="#00aa88"/><stop offset="0.8239" stop-color="#00aaab"/><stop offset="0.8240" stop-color="#00a8af"/><stop offset="0.8825" stop-color="#0098dd"/><stop offset="0.8876" stop-color="#0095dd"/><stop offset="0.8996" stop-color="#0078dd"/><stop offset="0.9026" stop-color="#005ddd"/><stop offset="0.9106" stop-color="#0000dd"/><stop offset="0.9176" stop-color="#0000b9"/><stop offset="0.9227" stop-color="#0300aa"/><stop offset="0.9288" stop-color="#3800a3"/><stop offset="0.9333" stop-color="#870098"/><stop offset="0.9363" stop-color="#810092"/><stop offset="0.9438" stop-color="#7f0090"/><stop offset="0.9476" stop-color="#7b008c"/><stop offset="0.9543" stop-color="#700080"/><stop offset="0.9588" stop-color="#5d006b"/><stop offset="0.9700" stop-color="#1c0020"/><stop offset="0.9813" stop-color="#000000"/><stop offset="1.0000" stop-color="#000000"/></linearGradient>
<linearGradient id="bd2" gradientUnits="userSpaceOnUse" x1="48" y1="0" x2="315" y2="0"><stop offset="0.0000" stop-color="#f5df00"/><stop offset="0.0037" stop-color="#f5df00"/><stop offset="0.0037" stop-color="#efed00"/><stop offset="0.0038" stop-color="#bcff00"/><stop offset="0.0038" stop-color="#00ff00"/><stop offset="0.0038" stop-color="#00dc00"/><stop offset="0.0038" stop-color="#00bc00"/><stop offset="0.0038" stop-color="#009a00"/><stop offset="0.0038" stop-color="#00aa88"/><stop offset="0.0038" stop-color="#00aaab"/><stop offset="0.0038" stop-color="#0098dd"/><stop offset="0.0038" stop-color="#0078dd"/><stop offset="0.0038" stop-color="#0000dd"/><stop offset="0.0038" stop-color="#0000bd"/><stop offset="0.0075" stop-color="#0000bd"/><stop offset="0.0075" stop-color="#0300aa"/><stop offset="0.0075" stop-color="#870098"/><stop offset="0.0075" stop-color="#7f0090"/><stop offset="0.2772" stop-color="#810092"/><stop offset="0.3055" stop-color="#870098"/><stop offset="0.3258" stop-color="#63009e"/><stop offset="0.3633" stop-color="#4d00a0"/><stop offset="0.5318" stop-color="#4d00a0"/><stop offset="0.5880" stop-color="#63009e"/><stop offset="0.7191" stop-color="#78009b"/><stop offset="0.7412" stop-color="#870098"/><stop offset="0.7753" stop-color="#830094"/><stop offset="0.9064" stop-color="#810092"/><stop offset="0.9288" stop-color="#810092"/><stop offset="0.9438" stop-color="#7f0090"/><stop offset="0.9476" stop-color="#7b008c"/><stop offset="0.9543" stop-color="#700080"/><stop offset="0.9588" stop-color="#5d006b"/><stop offset="0.9700" stop-color="#1c0020"/><stop offset="0.9813" stop-color="#000000"/><stop offset="1.0000" stop-color="#000000"/></linearGradient>
<linearGradient id="bd3" gradientUnits="userSpaceOnUse" x1="48" y1="0" x2="315" y2="0"><stop offset="0.0000" stop-color="#ffcd00"/><stop offset="0.0037" stop-color="#ffcd00"/><stop offset="0.0037" stop-color="#efed00"/><stop offset="0.0038" stop-color="#bcff00"/><stop offset="0.0038" stop-color="#00ff00"/><stop offset="0.0038" stop-color="#00dc00"/><stop offset="0.0038" stop-color="#00bc00"/><stop offset="0.0038" stop-color="#009a00"/><stop offset="0.0038" stop-color="#00aa88"/><stop offset="0.0038" stop-color="#00aaab"/><stop offset="0.0038" stop-color="#0098dd"/><stop offset="0.0038" stop-color="#0078dd"/><stop offset="0.0038" stop-color="#0000dd"/><stop offset="0.0038" stop-color="#0000bd"/><stop offset="0.0075" stop-color="#0000bd"/><stop offset="0.0075" stop-color="#0300aa"/><stop offset="0.0075" stop-color="#870098"/><stop offset="0.0075" stop-color="#7f0090"/><stop offset="0.1966" stop-color="#810092"/><stop offset="0.1989" stop-color="#870098"/><stop offset="0.2022" stop-color="#3800a3"/><stop offset="0.2054" stop-color="#0300aa"/><stop offset="0.2079" stop-color="#0000b9"/><stop offset="0.2116" stop-color="#0000dd"/><stop offset="0.2135" stop-color="#0025dd"/><stop offset="0.2207" stop-color="#0078dd"/><stop offset="0.2228" stop-color="#007ddd"/><stop offset="0.2287" stop-color="#0098dd"/><stop offset="0.2322" stop-color="#00a2c3"/><stop offset="0.2421" stop-color="#00aaab"/><stop offset="0.2434" stop-color="#00aaa8"/><stop offset="0.2584" stop-color="#00aa95"/><stop offset="0.2637" stop-color="#00aa88"/><stop offset="0.2734" stop-color="#009f33"/><stop offset="0.2772" stop-color="#009d1d"/><stop offset="0.2840" stop-color="#009a00"/><stop offset="0.2884" stop-color="#009f00"/><stop offset="0.3258" stop-color="#00af00"/><stop offset="0.3296" stop-color="#00af00"/><stop offset="0.3407" stop-color="#00bc00"/><stop offset="0.3446" stop-color="#00bf00"/><stop offset="0.3633" stop-color="#00ca00"/><stop offset="0.3745" stop-color="#00cf00"/><stop offset="0.4003" stop-color="#00dc00"/><stop offset="0.4007" stop-color="#00dc00"/><stop offset="0.4382" stop-color="#00ea00"/><stop offset="0.4757" stop-color="#00fa00"/><stop offset="0.4965" stop-color="#00ff00"/><stop offset="0.5056" stop-color="#0fff00"/><stop offset="0.5243" stop-color="#2cff00"/><stop offset="0.5318" stop-color="#1dff00"/><stop offset="0.5431" stop-color="#00ff00"/><stop offset="0.5432" stop-color="#00ff00"/><stop offset="0.5618" stop-color="#00ec00"/><stop offset="0.5797" stop-color="#00dc00"/><stop offset="0.5880" stop-color="#00d700"/><stop offset="0.6030" stop-color="#00c200"/><stop offset="0.6065" stop-color="#00bc00"/><stop offset="0.6142" stop-color="#00aa00"/><stop offset="0.6479" stop-color="#009a00"/><stop offset="0.6488" stop-color="#009a00"/><stop offset="0.6650" stop-color="#00aa88"/><stop offset="0.6667" stop-color="#00aa8b"/><stop offset="0.6891" stop-color="#00aaa0"/><stop offset="0.7049" stop-color="#00aaab"/><stop offset="0.7191" stop-color="#00a6b7"/><stop offset="0.7397" stop-color="#00a7b3"/><stop offset="0.7410" stop-color="#00aaab"/><stop offset="0.7434" stop-color="#00aa9d"/><stop offset="0.7441" stop-color="#00aa88"/><stop offset="0.7450" stop-color="#009a00"/><stop offset="0.7460" stop-color="#00bc00"/><stop offset="0.7470" stop-color="#00dc00"/><stop offset="0.7472" stop-color="#00e400"/><stop offset="0.7475" stop-color="#00dc00"/><stop offset="0.7485" stop-color="#00bc00"/><stop offset="0.7496" stop-color="#009a00"/><stop offset="0.7507" stop-color="#00aa88"/><stop offset="0.7509" stop-color="#00aa90"/><stop offset="0.7515" stop-color="#00aa88"/><stop offset="0.7541" stop-color="#009a00"/><stop offset="0.7547" stop-color="#009f00"/><stop offset="0.7603" stop-color="#009f00"/><stop offset="0.7608" stop-color="#009a00"/><stop offset="0.7634" stop-color="#00aa88"/><stop offset="0.7640" stop-color="#00aa90"/><stop offset="0.7714" stop-color="#00aa88"/><stop offset="0.7715" stop-color="#00aa88"/><stop offset="0.7753" stop-color="#00a248"/><stop offset="0.7772" stop-color="#009e28"/><stop offset="0.7828" stop-color="#00a353"/><stop offset="0.7839" stop-color="#009a00"/><stop offset="0.7859" stop-color="#00bc00"/><stop offset="0.7873" stop-color="#00d400"/><stop offset="0.7886" stop-color="#00bc00"/><stop offset="0.7903" stop-color="#009a00"/><stop offset="0.7921" stop-color="#00aa88"/><stop offset="0.7921" stop-color="#00aa88"/><stop offset="0.7923" stop-color="#00aa88"/><stop offset="0.7970" stop-color="#00a353"/><stop offset="0.7977" stop-color="#009a00"/><stop offset="0.7989" stop-color="#00bc00"/><stop offset="0.8001" stop-color="#00dc00"/><stop offset="0.8007" stop-color="#00f200"/><stop offset="0.8014" stop-color="#00dc00"/><stop offset="0.8026" stop-color="#00bc00"/><stop offset="0.8037" stop-color="#009a00"/><stop offset="0.8049" stop-color="#00aa88"/><stop offset="0.8052" stop-color="#00aa93"/><stop offset="0.8202" stop-color="#00aa88"/><stop offset="0.8204" stop-color="#00aa88"/><stop offset="0.8251" stop-color="#009b13"/><stop offset="0.8260" stop-color="#00aa88"/><stop offset="0.8271" stop-color="#00aaab"/><stop offset="0.8283" stop-color="#0098dd"/><stop offset="0.8294" stop-color="#0078dd"/><stop offset="0.8296" stop-color="#005ddd"/><stop offset="0.8727" stop-color="#0038dd"/><stop offset="0.8822" stop-color="#0000dd"/><stop offset="0.8951" stop-color="#0000b9"/><stop offset="0.9064" stop-color="#0000b1"/><stop offset="0.9078" stop-color="#0300aa"/><stop offset="0.9156" stop-color="#870098"/><stop offset="0.9176" stop-color="#830094"/><stop offset="0.9363" stop-color="#810092"/><stop offset="0.9438" stop-color="#7e008f"/><stop offset="0.9476" stop-color="#7b008c"/><stop offset="0.9543" stop-color="#700080"/><stop offset="0.9588" stop-color="#5d006b"/><stop offset="0.9700" stop-color="#1c0020"/><stop offset="0.9813" stop-color="#000000"/><stop offset="1.0000" stop-color="#000000"/></linearGradient>
<linearGradient id="bd4" gradientUnits="userSpaceOnUse" x1="48" y1="0" x2="315" y2="0"><stop offset="0.0000" stop-color="#ffcd00"/><stop offset="0.0037" stop-color="#ffcd00"/><stop offset="0.0037" stop-color="#efed00"/><stop offset="0.0038" stop-color="#bcff00"/><stop offset="0.0038" stop-color="#00ff00"/><stop offset="0.0038" stop-color="#00dc00"/><stop offset="0.0038" stop-color="#00bc00"/><stop offset="0.0038" stop-color="#009a00"/><stop offset="0.0038" stop-color="#00aa88"/><stop offset="0.0038" stop-color="#00aaab"/><stop offset="0.0038" stop-color="#0098dd"/><stop offset="0.0038" stop-color="#0078dd"/><stop offset="0.0038" stop-color="#0000dd"/><stop offset="0.0038" stop-color="#0000bd"/><stop offset="0.0075" stop-color="#0000bd"/><stop offset="0.0075" stop-color="#0300aa"/><stop offset="0.0075" stop-color="#870098"/><stop offset="0.0075" stop-color="#7f0090"/><stop offset="0.1966" stop-color="#810092"/><stop offset="0.1989" stop-color="#870098"/><stop offset="0.2022" stop-color="#3800a3"/><stop offset="0.2054" stop-color="#0300aa"/><stop offset="0.2079" stop-color="#0000b9"/><stop offset="0.2116" stop-color="#0000dd"/><stop offset="0.2135" stop-color="#0025dd"/><stop offset="0.2207" stop-color="#0078dd"/><stop offset="0.2228" stop-color="#007ddd"/><stop offset="0.2287" stop-color="#0098dd"/><stop offset="0.2322" stop-color="#00a2c3"/><stop offset="0.2421" stop-color="#00aaab"/><stop offset="0.2434" stop-color="#00aaa8"/><stop offset="0.2584" stop-color="#00aa95"/><stop offset="0.2622" stop-color="#00aa8b"/><stop offset="0.2636" stop-color="#00aa88"/><stop offset="0.2734" stop-color="#009e28"/><stop offset="0.2832" stop-color="#009a00"/><stop offset="0.2884" stop-color="#009f00"/><stop offset="0.2996" stop-color="#00a200"/><stop offset="0.3296" stop-color="#00ac00"/><stop offset="0.3427" stop-color="#00bc00"/><stop offset="0.3446" stop-color="#00bc00"/><stop offset="0.3745" stop-color="#00cf00"/><stop offset="0.3820" stop-color="#00d200"/><stop offset="0.4003" stop-color="#00dc00"/><stop offset="0.4007" stop-color="#00dc00"/><stop offset="0.4382" stop-color="#00ea00"/><stop offset="0.4569" stop-color="#00f200"/><stop offset="0.4757" stop-color="#00f700"/><stop offset="0.4981" stop-color="#00ff00"/><stop offset="0.5056" stop-color="#0fff00"/><stop offset="0.5243" stop-color="#2cff00"/><stop offset="0.5417" stop-color="#00ff00"/><stop offset="0.5431" stop-color="#00ff00"/><stop offset="0.5618" stop-color="#00ea00"/><stop offset="0.5797" stop-color="#00dc00"/><stop offset="0.5880" stop-color="#00d700"/><stop offset="0.6030" stop-color="#00c200"/><stop offset="0.6066" stop-color="#00bc00"/><stop offset="0.6067" stop-color="#00ba00"/><stop offset="0.6142" stop-color="#00aa00"/><stop offset="0.6479" stop-color="#009a00"/><stop offset="0.6488" stop-color="#009a00"/><stop offset="0.6648" stop-color="#00aa88"/><stop offset="0.6667" stop-color="#00aa8d"/><stop offset="0.6891" stop-color="#00aaa0"/><stop offset="0.7039" stop-color="#00aaab"/><stop offset="0.7191" stop-color="#00a4bb"/><stop offset="0.7397" stop-color="#00a7b3"/><stop offset="0.7408" stop-color="#00aaab"/><stop offset="0.7434" stop-color="#00aa9d"/><stop offset="0.7440" stop-color="#00aa88"/><stop offset="0.7450" stop-color="#009a00"/><stop offset="0.7460" stop-color="#00bc00"/><stop offset="0.7469" stop-color="#00dc00"/><stop offset="0.7472" stop-color="#00e700"/><stop offset="0.7475" stop-color="#00dc00"/><stop offset="0.7486" stop-color="#00bc00"/><stop offset="0.7497" stop-color="#009a00"/><stop offset="0.7507" stop-color="#00aa88"/><stop offset="0.7509" stop-color="#00aa8d"/><stop offset="0.7514" stop-color="#00aa88"/><stop offset="0.7540" stop-color="#009a00"/><stop offset="0.7547" stop-color="#00a200"/><stop offset="0.7603" stop-color="#00a200"/><stop offset="0.7610" stop-color="#009a00"/><stop offset="0.7636" stop-color="#00aa88"/><stop offset="0.7640" stop-color="#00aa8d"/><stop offset="0.7690" stop-color="#00aa88"/><stop offset="0.7715" stop-color="#00a97d"/><stop offset="0.7772" stop-color="#009d1d"/><stop offset="0.7828" stop-color="#00a248"/><stop offset="0.7837" stop-color="#009a00"/><stop offset="0.7857" stop-color="#00bc00"/><stop offset="0.7873" stop-color="#00d700"/><stop offset="0.7887" stop-color="#00bc00"/><stop offset="0.7905" stop-color="#009a00"/><stop offset="0.7921" stop-color="#00a97d"/><stop offset="0.7970" stop-color="#00a248"/><stop offset="0.7976" stop-color="#009a00"/><stop offset="0.7988" stop-color="#00bc00"/><stop offset="0.8000" stop-color="#00dc00"/><stop offset="0.8007" stop-color="#00f400"/><stop offset="0.8015" stop-color="#00dc00"/><stop offset="0.8027" stop-color="#00bc00"/><stop offset="0.8038" stop-color="#009a00"/><stop offset="0.8050" stop-color="#00aa88"/><stop offset="0.8052" stop-color="#00aa90"/><stop offset="0.8186" stop-color="#00aa88"/><stop offset="0.8202" stop-color="#00aa88"/><stop offset="0.8251" stop-color="#009b13"/><stop offset="0.8261" stop-color="#00aa88"/><stop offset="0.8272" stop-color="#00aaab"/><stop offset="0.8283" stop-color="#0098dd"/><stop offset="0.8294" stop-color="#0078dd"/><stop offset="0.8296" stop-color="#0067dd"/><stop offset="0.8689" stop-color="#0041dd"/><stop offset="0.8727" stop-color="#0038dd"/><stop offset="0.8824" stop-color="#0000dd"/><stop offset="0.8951" stop-color="#0000b9"/><stop offset="0.9064" stop-color="#0000b1"/><stop offset="0.9078" stop-color="#0300aa"/><stop offset="0.9156" stop-color="#870098"/><stop offset="0.9176" stop-color="#830094"/><stop offset="0.9363" stop-color="#810092"/><stop offset="0.9438" stop-color="#7e008f"/><stop offset="0.9476" stop-color="#7b008c"/><stop offset="0.9543" stop-color="#700080"/><stop offset="0.9588" stop-color="#5d006b"/><stop offset="0.9700" stop-color="#1c0020"/><stop offset="0.9813" stop-color="#000000"/><stop offset="1.0000" stop-color="#000000"/></linearGradient>
<linearGradient id="bd5" gradientUnits="userSpaceOnUse" x1="48" y1="0" x2="315" y2="0"><stop offset="0.0000" stop-color="#f5df00"/><stop offset="0.0037" stop-color="#f5df00"/><stop offset="0.0037" stop-color="#efed00"/><stop offset="0.0038" stop-color="#bcff00"/><stop offset="0.0038" stop-color="#00ff00"/><stop offset="0.0038" stop-color="#00dc00"/><stop offset="0.0038" stop-color="#00bc00"/><stop offset="0.0038" stop-color="#009a00"/><stop offset="0.0038" stop-color="#00aa88"/><stop offset="0.0038" stop-color="#00aaab"/><stop offset="0.0038" stop-color="#0098dd"/><stop offset="0.0038" stop-color="#0078dd"/><stop offset="0.0038" stop-color="#0000dd"/><stop offset="0.0038" stop-color="#0000bd"/><stop offset="0.0075" stop-color="#0000bd"/><stop offset="0.0075" stop-color="#0300aa"/><stop offset="0.0075" stop-color="#870098"/><stop offset="0.0075" stop-color="#7f0090"/><stop offset="0.1723" stop-color="#810092"/><stop offset="0.1739" stop-color="#870098"/><stop offset="0.1778" stop-color="#0300aa"/><stop offset="0.1779" stop-color="#0300aa"/><stop offset="0.1842" stop-color="#0000dd"/><stop offset="0.1873" stop-color="#0038dd"/><stop offset="0.1907" stop-color="#0078dd"/><stop offset="0.1972" stop-color="#0098dd"/><stop offset="0.1985" stop-color="#009cd3"/><stop offset="0.2016" stop-color="#00aaab"/><stop offset="0.2055" stop-color="#00aa88"/><stop offset="0.2094" stop-color="#009a00"/><stop offset="0.2097" stop-color="#009c00"/><stop offset="0.2172" stop-color="#00aa00"/><stop offset="0.2226" stop-color="#00bc00"/><stop offset="0.2285" stop-color="#00cc00"/><stop offset="0.2346" stop-color="#00dc00"/><stop offset="0.2434" stop-color="#00f400"/><stop offset="0.2476" stop-color="#00ff00"/><stop offset="0.2584" stop-color="#a1ff00"/><stop offset="0.2622" stop-color="#b0ff00"/><stop offset="0.2665" stop-color="#bcff00"/><stop offset="0.2884" stop-color="#d4f700"/><stop offset="0.2996" stop-color="#d8f500"/><stop offset="0.3446" stop-color="#dcf400"/><stop offset="0.3670" stop-color="#e0f300"/><stop offset="0.3695" stop-color="#efed00"/><stop offset="0.3708" stop-color="#f1e700"/><stop offset="0.3820" stop-color="#f1e700"/><stop offset="0.4120" stop-color="#f1e700"/><stop offset="0.4135" stop-color="#efed00"/><stop offset="0.4157" stop-color="#e0f300"/><stop offset="0.4569" stop-color="#e0f300"/><stop offset="0.5880" stop-color="#e0f300"/><stop offset="0.5993" stop-color="#c0fd00"/><stop offset="0.6002" stop-color="#bcff00"/><stop offset="0.6067" stop-color="#2cff00"/><stop offset="0.6110" stop-color="#00ff00"/><stop offset="0.6217" stop-color="#00ea00"/><stop offset="0.6404" stop-color="#00dc00"/><stop offset="0.6442" stop-color="#00da00"/><stop offset="0.6816" stop-color="#00ca00"/><stop offset="0.7004" stop-color="#00bc00"/><stop offset="0.7009" stop-color="#00bc00"/><stop offset="0.7191" stop-color="#00a200"/><stop offset="0.7370" stop-color="#009a00"/><stop offset="0.7378" stop-color="#009a00"/><stop offset="0.7381" stop-color="#009a00"/><stop offset="0.7434" stop-color="#00a200"/><stop offset="0.7453" stop-color="#00bc00"/><stop offset="0.7472" stop-color="#00d400"/><stop offset="0.7487" stop-color="#00bc00"/><stop offset="0.7509" stop-color="#009a00"/><stop offset="0.7509" stop-color="#009a08"/><stop offset="0.7515" stop-color="#009a00"/><stop offset="0.7584" stop-color="#00a200"/><stop offset="0.7604" stop-color="#00bc00"/><stop offset="0.7622" stop-color="#00d200"/><stop offset="0.7637" stop-color="#00bc00"/><stop offset="0.7640" stop-color="#00b400"/><stop offset="0.7658" stop-color="#009a00"/><stop offset="0.7659" stop-color="#009a08"/><stop offset="0.7753" stop-color="#00a13d"/><stop offset="0.7765" stop-color="#009a00"/><stop offset="0.7790" stop-color="#00ba00"/><stop offset="0.7815" stop-color="#009a00"/><stop offset="0.7828" stop-color="#00a248"/><stop offset="0.7959" stop-color="#00a248"/><stop offset="0.7968" stop-color="#009a00"/><stop offset="0.7985" stop-color="#00bc00"/><stop offset="0.7996" stop-color="#00d200"/><stop offset="0.8005" stop-color="#00bc00"/><stop offset="0.8018" stop-color="#009a00"/><stop offset="0.8031" stop-color="#00aa88"/><stop offset="0.8034" stop-color="#00aa90"/><stop offset="0.8165" stop-color="#00aa90"/><stop offset="0.8168" stop-color="#00aa88"/><stop offset="0.8181" stop-color="#009a00"/><stop offset="0.8194" stop-color="#00bc00"/><stop offset="0.8202" stop-color="#00cf00"/><stop offset="0.8209" stop-color="#00bc00"/><stop offset="0.8219" stop-color="#009a00"/><stop offset="0.8229" stop-color="#00aa88"/><stop offset="0.8240" stop-color="#00aaab"/><stop offset="0.8249" stop-color="#00aaab"/><stop offset="0.8689" stop-color="#009cd3"/><stop offset="0.8837" stop-color="#0098dd"/><stop offset="0.8876" stop-color="#0095dd"/><stop offset="0.8997" stop-color="#0078dd"/><stop offset="0.9026" stop-color="#005ddd"/><stop offset="0.9106" stop-color="#0000dd"/><stop offset="0.9176" stop-color="#0000b9"/><stop offset="0.9225" stop-color="#0300aa"/><stop offset="0.9288" stop-color="#3800a3"/><stop offset="0.9332" stop-color="#870098"/><stop offset="0.9363" stop-color="#810092"/><stop offset="0.9438" stop-color="#7f0090"/><stop offset="0.9476" stop-color="#7b008c"/><stop offset="0.9543" stop-color="#700080"/><stop offset="0.9588" stop-color="#5d006b"/><stop offset="0.9700" stop-color="#1c0020"/><stop offset="0.9813" stop-color="#000000"/><stop offset="1.0000" stop-color="#000000"/></linearGradient>
<linearGradient id="bd6" gradientUnits="userSpaceOnUse" x1="328" y1="0" x2="595" y2="0"><stop offset="0.0000" stop-color="#c0fd00"/><stop offset="0.0037" stop-color="#c0fd00"/><stop offset="0.0037" stop-color="#bcff00"/><stop offset="0.0037" stop-color="#00ff00"/><stop offset="0.0038" stop-color="#00dc00"/><stop offset="0.0038" stop-color="#00bc00"/><stop offset="0.0038" stop-color="#009a00"/><stop offset="0.0038" stop-color="#00aa88"/><stop offset="0.0038" stop-color="#00aaab"/><stop offset="0.0038" stop-color="#0098dd"/><stop offset="0.0038" stop-color="#0078dd"/><stop offset="0.0038" stop-color="#0000dd"/><stop offset="0.0038" stop-color="#0300aa"/><stop offset="0.0038" stop-color="#1800a7"/><stop offset="0.0075" stop-color="#1800a7"/><stop offset="0.0075" stop-color="#870098"/><stop offset="0.0075" stop-color="#7f0090"/><stop offset="0.1685" stop-color="#810092"/><stop offset="0.1696" stop-color="#870098"/><stop offset="0.1722" stop-color="#0300aa"/><stop offset="0.1723" stop-color="#0300aa"/><stop offset="0.1773" stop-color="#0000dd"/><stop offset="0.1798" stop-color="#0038dd"/><stop offset="0.1810" stop-color="#0078dd"/><stop offset="0.1834" stop-color="#0098dd"/><stop offset="0.1859" stop-color="#00aaab"/><stop offset="0.1883" stop-color="#00aa88"/><stop offset="0.1891" stop-color="#00a353"/><stop offset="0.1930" stop-color="#009a00"/><stop offset="0.1991" stop-color="#00bc00"/><stop offset="0.2022" stop-color="#00cc00"/><stop offset="0.2053" stop-color="#00dc00"/><stop offset="0.2097" stop-color="#00f400"/><stop offset="0.2118" stop-color="#00ff00"/><stop offset="0.2135" stop-color="#2cff00"/><stop offset="0.2172" stop-color="#a1ff00"/><stop offset="0.2203" stop-color="#bcff00"/><stop offset="0.2341" stop-color="#d8f500"/><stop offset="0.2351" stop-color="#efed00"/><stop offset="0.2377" stop-color="#ffc900"/><stop offset="0.2378" stop-color="#ffc900"/><stop offset="0.2697" stop-color="#ffb900"/><stop offset="0.2884" stop-color="#ffb500"/><stop offset="0.6330" stop-color="#ffb500"/><stop offset="0.6399" stop-color="#ffc900"/><stop offset="0.6404" stop-color="#ffcd00"/><stop offset="0.6479" stop-color="#efed00"/><stop offset="0.6536" stop-color="#efed00"/><stop offset="0.7154" stop-color="#e0f300"/><stop offset="0.7201" stop-color="#bcff00"/><stop offset="0.7228" stop-color="#75ff00"/><stop offset="0.7304" stop-color="#00ff00"/><stop offset="0.7341" stop-color="#00f700"/><stop offset="0.7416" stop-color="#00e200"/><stop offset="0.7678" stop-color="#00e200"/><stop offset="0.7703" stop-color="#00ff00"/><stop offset="0.7732" stop-color="#bcff00"/><stop offset="0.7753" stop-color="#e0f300"/><stop offset="0.7774" stop-color="#bcff00"/><stop offset="0.7803" stop-color="#00ff00"/><stop offset="0.7828" stop-color="#00e200"/><stop offset="0.8165" stop-color="#00e200"/><stop offset="0.8183" stop-color="#00ff00"/><stop offset="0.8205" stop-color="#bcff00"/><stop offset="0.8221" stop-color="#e0f300"/><stop offset="0.8231" stop-color="#bcff00"/><stop offset="0.8245" stop-color="#00ff00"/><stop offset="0.8259" stop-color="#00dc00"/><stop offset="0.8273" stop-color="#00bc00"/><stop offset="0.8277" stop-color="#00b200"/><stop offset="0.8689" stop-color="#00ac00"/><stop offset="0.8914" stop-color="#009c00"/><stop offset="0.9013" stop-color="#009a00"/><stop offset="0.9064" stop-color="#009a08"/><stop offset="0.9099" stop-color="#00aa88"/><stop offset="0.9138" stop-color="#00aaab"/><stop offset="0.9139" stop-color="#00aaab"/><stop offset="0.9172" stop-color="#0098dd"/><stop offset="0.9207" stop-color="#0078dd"/><stop offset="0.9213" stop-color="#005ddd"/><stop offset="0.9276" stop-color="#0000dd"/><stop offset="0.9326" stop-color="#0000b9"/><stop offset="0.9342" stop-color="#0300aa"/><stop offset="0.9389" stop-color="#870098"/><stop offset="0.9401" stop-color="#830094"/><stop offset="0.9438" stop-color="#810092"/><stop offset="0.9551" stop-color="#7a008b"/><stop offset="0.9596" stop-color="#700080"/><stop offset="0.9663" stop-color="#4b0055"/><stop offset="0.9775" stop-color="#130015"/><stop offset="0.9831" stop-color="#000000"/><stop offset="1.0000" stop-color="#000000"/></linearGradient>
<linearGradient id="bd7" gradientUnits="userSpaceOnUse" x1="328" y1="0" x2="595" y2="0"><stop offset="0.0000" stop-color="#c0fd00"/><stop offset="0.0037" stop-color="#c0fd00"/><stop offset="0.0037" stop-color="#bcff00"/><stop offset="0.0037" stop-color="#00ff00"/><stop offset="0.0038" stop-color="#00dc00"/><stop offset="0.0038" stop-color="#00bc00"/><stop offset="0.0038" stop-color="#009a00"/><stop offset="0.0038" stop-color="#00aa88"/><stop offset="0.0038" stop-color="#00aaab"/><stop offset="0.0038" stop-color="#0098dd"/><stop offset="0.0038" stop-color="#0078dd"/><stop offset="0.0038" stop-color="#0000dd"/><stop offset="0.0038" stop-color="#0300aa"/><stop offset="0.0038" stop-color="#870098"/><stop offset="0.0038" stop-color="#7f0090"/><stop offset="0.1816" stop-color="#810092"/><stop offset="0.1834" stop-color="#870098"/><stop offset="0.1873" stop-color="#0d00a8"/><stop offset="0.1891" stop-color="#0300aa"/><stop offset="0.1948" stop-color="#0000b9"/><stop offset="0.1998" stop-color="#0000dd"/><stop offset="0.2022" stop-color="#0025dd"/><stop offset="0.2135" stop-color="#0070dd"/><stop offset="0.2137" stop-color="#0078dd"/><stop offset="0.2172" stop-color="#007ddd"/><stop offset="0.2219" stop-color="#0098dd"/><stop offset="0.2281" stop-color="#00aaab"/><stop offset="0.2285" stop-color="#00aaa8"/><stop offset="0.2331" stop-color="#00aa88"/><stop offset="0.2381" stop-color="#009a00"/><stop offset="0.2397" stop-color="#00a400"/><stop offset="0.2562" stop-color="#00bc00"/><stop offset="0.2622" stop-color="#00c400"/><stop offset="0.2697" stop-color="#00cf00"/><stop offset="0.2787" stop-color="#00dc00"/><stop offset="0.2809" stop-color="#00e200"/><stop offset="0.2884" stop-color="#00ec00"/><stop offset="0.2996" stop-color="#00fa00"/><stop offset="0.3032" stop-color="#00ff00"/><stop offset="0.3184" stop-color="#75ff00"/><stop offset="0.3371" stop-color="#a1ff00"/><stop offset="0.3451" stop-color="#bcff00"/><stop offset="0.3596" stop-color="#c8fb00"/><stop offset="0.3745" stop-color="#d4f700"/><stop offset="0.4355" stop-color="#efed00"/><stop offset="0.4382" stop-color="#efed00"/><stop offset="0.4682" stop-color="#efed00"/><stop offset="0.4757" stop-color="#fdcf00"/><stop offset="0.4960" stop-color="#ffc900"/><stop offset="0.5019" stop-color="#ffc900"/><stop offset="0.5094" stop-color="#ffb500"/><stop offset="0.5581" stop-color="#ffb500"/><stop offset="0.5639" stop-color="#ffc900"/><stop offset="0.5655" stop-color="#fdcf00"/><stop offset="0.5712" stop-color="#efed00"/><stop offset="0.5738" stop-color="#efed00"/><stop offset="0.6030" stop-color="#e0f300"/><stop offset="0.6142" stop-color="#bcff00"/><stop offset="0.6146" stop-color="#bcff00"/><stop offset="0.6330" stop-color="#3bff00"/><stop offset="0.6426" stop-color="#00ff00"/><stop offset="0.6517" stop-color="#00f700"/><stop offset="0.6704" stop-color="#00e200"/><stop offset="0.6751" stop-color="#00dc00"/><stop offset="0.6891" stop-color="#00cf00"/><stop offset="0.7076" stop-color="#00bc00"/><stop offset="0.7079" stop-color="#00ba00"/><stop offset="0.7191" stop-color="#00b200"/><stop offset="0.7378" stop-color="#00a700"/><stop offset="0.7391" stop-color="#00bc00"/><stop offset="0.7413" stop-color="#00dc00"/><stop offset="0.7416" stop-color="#00e200"/><stop offset="0.7427" stop-color="#00ff00"/><stop offset="0.7434" stop-color="#75ff00"/><stop offset="0.7439" stop-color="#bcff00"/><stop offset="0.7450" stop-color="#efed00"/><stop offset="0.7460" stop-color="#ffc900"/><stop offset="0.7461" stop-color="#ffc900"/><stop offset="0.7461" stop-color="#ffc900"/><stop offset="0.7485" stop-color="#efed00"/><stop offset="0.7491" stop-color="#e0f300"/><stop offset="0.7509" stop-color="#bcff00"/><stop offset="0.7533" stop-color="#00ff00"/><stop offset="0.7547" stop-color="#00ec00"/><stop offset="0.7556" stop-color="#00ff00"/><stop offset="0.7572" stop-color="#bcff00"/><stop offset="0.7584" stop-color="#e0f300"/><stop offset="0.7772" stop-color="#e0f300"/><stop offset="0.7783" stop-color="#bcff00"/><stop offset="0.7790" stop-color="#75ff00"/><stop offset="0.7804" stop-color="#bcff00"/><stop offset="0.7828" stop-color="#e0f300"/><stop offset="0.7835" stop-color="#efed00"/><stop offset="0.7864" stop-color="#ffc900"/><stop offset="0.7865" stop-color="#ffc900"/><stop offset="0.7866" stop-color="#ffc900"/><stop offset="0.7878" stop-color="#efed00"/><stop offset="0.7890" stop-color="#bcff00"/><stop offset="0.7903" stop-color="#00ff00"/><stop offset="0.7916" stop-color="#bcff00"/><stop offset="0.7930" stop-color="#efed00"/><stop offset="0.7943" stop-color="#ffc900"/><stop offset="0.7948" stop-color="#ffb900"/><stop offset="0.7978" stop-color="#ffb900"/><stop offset="0.7985" stop-color="#ffc900"/><stop offset="0.8009" stop-color="#efed00"/><stop offset="0.8015" stop-color="#e0f300"/><stop offset="0.8165" stop-color="#e0f300"/><stop offset="0.8184" stop-color="#bcff00"/><stop offset="0.8202" stop-color="#3bff00"/><stop offset="0.8215" stop-color="#00ff00"/><stop offset="0.8240" stop-color="#00ec00"/><stop offset="0.8244" stop-color="#00dc00"/><stop offset="0.8253" stop-color="#00bc00"/><stop offset="0.8263" stop-color="#009a00"/><stop offset="0.8273" stop-color="#00aa88"/><stop offset="0.8277" stop-color="#00aa98"/><stop offset="0.8390" stop-color="#00aaa5"/><stop offset="0.8448" stop-color="#00aaab"/><stop offset="0.8689" stop-color="#00a2c3"/><stop offset="0.8846" stop-color="#0098dd"/><stop offset="0.8914" stop-color="#0090dd"/><stop offset="0.9046" stop-color="#0078dd"/><stop offset="0.9064" stop-color="#0067dd"/><stop offset="0.9139" stop-color="#0009dd"/><stop offset="0.9149" stop-color="#0000dd"/><stop offset="0.9213" stop-color="#0000bd"/><stop offset="0.9307" stop-color="#0000ad"/><stop offset="0.9310" stop-color="#0300aa"/><stop offset="0.9353" stop-color="#870098"/><stop offset="0.9363" stop-color="#830094"/><stop offset="0.9438" stop-color="#810092"/><stop offset="0.9551" stop-color="#7a008b"/><stop offset="0.9596" stop-color="#700080"/><stop offset="0.9663" stop-color="#4b0055"/><stop offset="0.9775" stop-color="#130015"/><stop offset="0.9831" stop-color="#000000"/><stop offset="1.0000" stop-color="#000000"/></linearGradient>
<linearGradient id="bd8" gradientUnits="userSpaceOnUse" x1="328" y1="0" x2="595" y2="0"><stop offset="0.0000" stop-color="#e90000"/><stop offset="0.0037" stop-color="#e90000"/><stop offset="0.0037" stop-color="#fe0000"/><stop offset="0.0037" stop-color="#ff9900"/><stop offset="0.0038" stop-color="#ffc900"/><stop offset="0.0038" stop-color="#efed00"/><stop offset="0.0038" stop-color="#bcff00"/><stop offset="0.0038" stop-color="#00ff00"/><stop offset="0.0038" stop-color="#00dc00"/><stop offset="0.0038" stop-color="#00bc00"/><stop offset="0.0038" stop-color="#009a00"/><stop offset="0.0038" stop-color="#00aa88"/><stop offset="0.0038" stop-color="#00aaab"/><stop offset="0.0038" stop-color="#0098dd"/><stop offset="0.0038" stop-color="#0078dd"/><stop offset="0.0038" stop-color="#0000dd"/><stop offset="0.0038" stop-color="#0300aa"/><stop offset="0.0038" stop-color="#1800a7"/><stop offset="0.0075" stop-color="#1800a7"/><stop offset="0.0075" stop-color="#870098"/><stop offset="0.0075" stop-color="#7f0090"/><stop offset="0.1816" stop-color="#810092"/><stop offset="0.1834" stop-color="#870098"/><stop offset="0.1835" stop-color="#83009a"/><stop offset="0.1873" stop-color="#0d00a8"/><stop offset="0.1886" stop-color="#0300aa"/><stop offset="0.1948" stop-color="#0000bd"/><stop offset="0.1991" stop-color="#0000dd"/><stop offset="0.2022" stop-color="#002fdd"/><stop offset="0.2110" stop-color="#0078dd"/><stop offset="0.2172" stop-color="#0085dd"/><stop offset="0.2210" stop-color="#0098dd"/><stop offset="0.2273" stop-color="#00aaab"/><stop offset="0.2285" stop-color="#00aaa5"/><stop offset="0.2326" stop-color="#00aa88"/><stop offset="0.2376" stop-color="#009a00"/><stop offset="0.2397" stop-color="#00a700"/><stop offset="0.2554" stop-color="#00bc00"/><stop offset="0.2622" stop-color="#00c400"/><stop offset="0.2800" stop-color="#00dc00"/><stop offset="0.2809" stop-color="#00df00"/><stop offset="0.2996" stop-color="#00fa00"/><stop offset="0.3038" stop-color="#00ff00"/><stop offset="0.3184" stop-color="#75ff00"/><stop offset="0.3371" stop-color="#b0ff00"/><stop offset="0.3392" stop-color="#bcff00"/><stop offset="0.3446" stop-color="#c0fd00"/><stop offset="0.3596" stop-color="#ccf900"/><stop offset="0.3745" stop-color="#d8f500"/><stop offset="0.4278" stop-color="#efed00"/><stop offset="0.4382" stop-color="#f0ea00"/><stop offset="0.4569" stop-color="#f0ea00"/><stop offset="0.4719" stop-color="#f0ea00"/><stop offset="0.4794" stop-color="#fdcf00"/><stop offset="0.5094" stop-color="#ffcd00"/><stop offset="0.5116" stop-color="#ffc900"/><stop offset="0.5169" stop-color="#ffc500"/><stop offset="0.5281" stop-color="#ffc500"/><stop offset="0.5330" stop-color="#ffc900"/><stop offset="0.5356" stop-color="#ffcd00"/><stop offset="0.5581" stop-color="#fcd200"/><stop offset="0.5655" stop-color="#efed00"/><stop offset="0.5715" stop-color="#efed00"/><stop offset="0.6030" stop-color="#e0f300"/><stop offset="0.6142" stop-color="#bcff00"/><stop offset="0.6149" stop-color="#bcff00"/><stop offset="0.6330" stop-color="#3bff00"/><stop offset="0.6426" stop-color="#00ff00"/><stop offset="0.6442" stop-color="#00fc00"/><stop offset="0.6517" stop-color="#00f400"/><stop offset="0.6704" stop-color="#00e200"/><stop offset="0.6749" stop-color="#00dc00"/><stop offset="0.6891" stop-color="#00cf00"/><stop offset="0.7071" stop-color="#00bc00"/><stop offset="0.7079" stop-color="#00ba00"/><stop offset="0.7191" stop-color="#00af00"/><stop offset="0.7378" stop-color="#00a700"/><stop offset="0.7391" stop-color="#00bc00"/><stop offset="0.7413" stop-color="#00dc00"/><stop offset="0.7416" stop-color="#00e200"/><stop offset="0.7427" stop-color="#00ff00"/><stop offset="0.7434" stop-color="#67ff00"/><stop offset="0.7439" stop-color="#bcff00"/><stop offset="0.7450" stop-color="#efed00"/><stop offset="0.7461" stop-color="#ffc900"/><stop offset="0.7461" stop-color="#ffc900"/><stop offset="0.7461" stop-color="#ffc900"/><stop offset="0.7484" stop-color="#efed00"/><stop offset="0.7491" stop-color="#e0f300"/><stop offset="0.7508" stop-color="#bcff00"/><stop offset="0.7532" stop-color="#00ff00"/><stop offset="0.7547" stop-color="#00ec00"/><stop offset="0.7556" stop-color="#00ff00"/><stop offset="0.7573" stop-color="#bcff00"/><stop offset="0.7584" stop-color="#e0f300"/><stop offset="0.7772" stop-color="#e0f300"/><stop offset="0.7783" stop-color="#bcff00"/><stop offset="0.7790" stop-color="#67ff00"/><stop offset="0.7805" stop-color="#bcff00"/><stop offset="0.7828" stop-color="#e0f300"/><stop offset="0.7836" stop-color="#efed00"/><stop offset="0.7865" stop-color="#ffcd00"/><stop offset="0.7878" stop-color="#efed00"/><stop offset="0.7890" stop-color="#bcff00"/><stop offset="0.7902" stop-color="#00ff00"/><stop offset="0.7903" stop-color="#00ff00"/><stop offset="0.7903" stop-color="#00ff00"/><stop offset="0.7917" stop-color="#bcff00"/><stop offset="0.7930" stop-color="#efed00"/><stop offset="0.7944" stop-color="#ffc900"/><stop offset="0.7948" stop-color="#ffbd00"/><stop offset="0.7978" stop-color="#ffbd00"/><stop offset="0.7984" stop-color="#ffc900"/><stop offset="0.8008" stop-color="#efed00"/><stop offset="0.8015" stop-color="#e0f300"/><stop offset="0.8165" stop-color="#e0f300"/><stop offset="0.8183" stop-color="#bcff00"/><stop offset="0.8202" stop-color="#2cff00"/><stop offset="0.8213" stop-color="#00ff00"/><stop offset="0.8240" stop-color="#00ea00"/><stop offset="0.8243" stop-color="#00dc00"/><stop offset="0.8253" stop-color="#00bc00"/><stop offset="0.8263" stop-color="#009a00"/><stop offset="0.8272" stop-color="#00aa88"/><stop offset="0.8277" stop-color="#00aa98"/><stop offset="0.8390" stop-color="#00aaa8"/><stop offset="0.8424" stop-color="#00aaab"/><stop offset="0.8689" stop-color="#00a0c7"/><stop offset="0.8876" stop-color="#009bd7"/><stop offset="0.8904" stop-color="#0098dd"/><stop offset="0.8914" stop-color="#0098dd"/><stop offset="0.9047" stop-color="#0078dd"/><stop offset="0.9064" stop-color="#0067dd"/><stop offset="0.9139" stop-color="#0009dd"/><stop offset="0.9152" stop-color="#0000dd"/><stop offset="0.9213" stop-color="#0000bd"/><stop offset="0.9307" stop-color="#0000ad"/><stop offset="0.9311" stop-color="#0300aa"/><stop offset="0.9353" stop-color="#870098"/><stop offset="0.9363" stop-color="#830094"/><stop offset="0.9438" stop-color="#810092"/><stop offset="0.9551" stop-color="#7a008b"/><stop offset="0.9596" stop-color="#700080"/><stop offset="0.9663" stop-color="#4b0055"/><stop offset="0.9775" stop-color="#130015"/><stop offset="0.9831" stop-color="#000000"/><stop offset="1.0000" stop-color="#000000"/></linearGradient>
<linearGradient id="bd9" gradientUnits="userSpaceOnUse" x1="328" y1="0" x2="595" y2="0"><stop offset="0.0000" stop-color="#e90000"/><stop offset="0.0037" stop-color="#e90000"/><stop offset="0.0037" stop-color="#fe0000"/><stop offset="0.0037" stop-color="#ff9900"/><stop offset="0.0038" stop-color="#ffc900"/><stop offset="0.0038" stop-color="#efed00"/><stop offset="0.0038" stop-color="#bcff00"/><stop offset="0.0038" stop-color="#00ff00"/><stop offset="0.0038" stop-color="#00dc00"/><stop offset="0.0038" stop-color="#00bc00"/><stop offset="0.0038" stop-color="#009a00"/><stop offset="0.0038" stop-color="#00aa88"/><stop offset="0.0038" stop-color="#00aaab"/><stop offset="0.0038" stop-color="#0098dd"/><stop offset="0.0038" stop-color="#0078dd"/><stop offset="0.0038" stop-color="#0000dd"/><stop offset="0.0038" stop-color="#0000bd"/><stop offset="0.0075" stop-color="#0000bd"/><stop offset="0.0075" stop-color="#0300aa"/><stop offset="0.0075" stop-color="#870098"/><stop offset="0.0075" stop-color="#7f0090"/><stop offset="0.1835" stop-color="#810092"/><stop offset="0.1948" stop-color="#830094"/><stop offset="0.2083" stop-color="#870098"/><stop offset="0.2622" stop-color="#0d00a8"/><stop offset="0.2677" stop-color="#0300aa"/><stop offset="0.3071" stop-color="#0000c1"/><stop offset="0.3446" stop-color="#0000d1"/><stop offset="0.4569" stop-color="#0000c9"/><stop offset="0.6442" stop-color="#0000c1"/><stop offset="0.8689" stop-color="#0000b9"/><stop offset="0.8876" stop-color="#0000b1"/><stop offset="0.8904" stop-color="#0300aa"/><stop offset="0.8989" stop-color="#58009f"/><stop offset="0.9053" stop-color="#870098"/><stop offset="0.9064" stop-color="#860097"/><stop offset="0.9438" stop-color="#810092"/><stop offset="0.9551" stop-color="#7a008b"/><stop offset="0.9596" stop-color="#700080"/><stop offset="0.9663" stop-color="#4b0055"/><stop offset="0.9775" stop-color="#130015"/><stop offset="0.9831" stop-color="#000000"/><stop offset="1.0000" stop-color="#000000"/></linearGradient>
<linearGradient id="bd10" gradientUnits="userSpaceOnUse" x1="328" y1="0" x2="595" y2="0"><stop offset="0.0000" stop-color="#e90000"/><stop offset="0.0037" stop-color="#e90000"/><stop offset="0.0037" stop-color="#fe0000"/><stop offset="0.0037" stop-color="#ff9900"/><stop offset="0.0038" stop-color="#ffc900"/><stop offset="0.0038" stop-color="#efed00"/><stop offset="0.0038" stop-color="#bcff00"/><stop offset="0.0038" stop-color="#00ff00"/><stop offset="0.0038" stop-color="#00dc00"/><stop offset="0.0038" stop-color="#00bc00"/><stop offset="0.0038" stop-color="#009a00"/><stop offset="0.0038" stop-color="#00aa88"/><stop offset="0.0038" stop-color="#00aaab"/><stop offset="0.0038" stop-color="#0098dd"/><stop offset="0.0038" stop-color="#0078dd"/><stop offset="0.0038" stop-color="#0000dd"/><stop offset="0.0038" stop-color="#0000bd"/><stop offset="0.0075" stop-color="#0000bd"/><stop offset="0.0075" stop-color="#0300aa"/><stop offset="0.0075" stop-color="#870098"/><stop offset="0.0075" stop-color="#7f0090"/><stop offset="0.1685" stop-color="#810092"/><stop offset="0.1696" stop-color="#870098"/><stop offset="0.1722" stop-color="#0300aa"/><stop offset="0.1723" stop-color="#0300aa"/><stop offset="0.1773" stop-color="#0000dd"/><stop offset="0.1798" stop-color="#0038dd"/><stop offset="0.1810" stop-color="#0078dd"/><stop offset="0.1834" stop-color="#0098dd"/><stop offset="0.1858" stop-color="#00aaab"/><stop offset="0.1883" stop-color="#00aa88"/><stop offset="0.1891" stop-color="#00a353"/><stop offset="0.1930" stop-color="#009a00"/><stop offset="0.1948" stop-color="#00a200"/><stop offset="0.1990" stop-color="#00bc00"/><stop offset="0.2022" stop-color="#00cf00"/><stop offset="0.2051" stop-color="#00dc00"/><stop offset="0.2097" stop-color="#00f700"/><stop offset="0.2115" stop-color="#00ff00"/><stop offset="0.2172" stop-color="#b0ff00"/><stop offset="0.2201" stop-color="#bcff00"/><stop offset="0.2341" stop-color="#d8f500"/><stop offset="0.2353" stop-color="#efed00"/><stop offset="0.2378" stop-color="#ffcd00"/><stop offset="0.2502" stop-color="#ffc900"/><stop offset="0.3071" stop-color="#ffc500"/><stop offset="0.6330" stop-color="#ffc500"/><stop offset="0.6353" stop-color="#ffc900"/><stop offset="0.6404" stop-color="#f9d700"/><stop offset="0.6457" stop-color="#efed00"/><stop offset="0.6479" stop-color="#e0f300"/><stop offset="0.6891" stop-color="#d0f800"/><stop offset="0.6975" stop-color="#bcff00"/><stop offset="0.7004" stop-color="#a1ff00"/><stop offset="0.7116" stop-color="#3bff00"/><stop offset="0.7260" stop-color="#00ff00"/><stop offset="0.7416" stop-color="#00f400"/><stop offset="0.7419" stop-color="#00ff00"/><stop offset="0.7428" stop-color="#bcff00"/><stop offset="0.7434" stop-color="#e0f300"/><stop offset="0.7472" stop-color="#e0f300"/><stop offset="0.7480" stop-color="#bcff00"/><stop offset="0.7491" stop-color="#00ff00"/><stop offset="0.7491" stop-color="#00ff00"/><stop offset="0.7566" stop-color="#00ff00"/><stop offset="0.7566" stop-color="#00ff00"/><stop offset="0.7592" stop-color="#bcff00"/><stop offset="0.7603" stop-color="#d0f800"/><stop offset="0.7940" stop-color="#d0f800"/><stop offset="0.7951" stop-color="#efed00"/><stop offset="0.7970" stop-color="#ffc900"/><stop offset="0.7970" stop-color="#ffc900"/><stop offset="0.7970" stop-color="#ffc900"/><stop offset="0.7987" stop-color="#efed00"/><stop offset="0.7996" stop-color="#d0f800"/><stop offset="0.8127" stop-color="#e0f300"/><stop offset="0.8138" stop-color="#bcff00"/><stop offset="0.8152" stop-color="#00ff00"/><stop offset="0.8165" stop-color="#00e200"/><stop offset="0.8179" stop-color="#00ff00"/><stop offset="0.8195" stop-color="#bcff00"/><stop offset="0.8202" stop-color="#d0f800"/><stop offset="0.8209" stop-color="#bcff00"/><stop offset="0.8225" stop-color="#00ff00"/><stop offset="0.8240" stop-color="#00e200"/><stop offset="0.8254" stop-color="#00ff00"/><stop offset="0.8270" stop-color="#bcff00"/><stop offset="0.8277" stop-color="#d0f800"/><stop offset="0.8280" stop-color="#bcff00"/><stop offset="0.8288" stop-color="#00ff00"/><stop offset="0.8295" stop-color="#00dc00"/><stop offset="0.8303" stop-color="#00bc00"/><stop offset="0.8307" stop-color="#00a700"/><stop offset="0.8689" stop-color="#00a200"/><stop offset="0.8894" stop-color="#009a00"/><stop offset="0.8989" stop-color="#009b13"/><stop offset="0.9064" stop-color="#009b13"/><stop offset="0.9097" stop-color="#00aa88"/><stop offset="0.9137" stop-color="#00aaab"/><stop offset="0.9139" stop-color="#00aaab"/><stop offset="0.9172" stop-color="#0098dd"/><stop offset="0.9206" stop-color="#0078dd"/><stop offset="0.9213" stop-color="#005ddd"/><stop offset="0.9275" stop-color="#0000dd"/><stop offset="0.9326" stop-color="#0000b9"/><stop offset="0.9342" stop-color="#0300aa"/><stop offset="0.9389" stop-color="#870098"/><stop offset="0.9401" stop-color="#830094"/><stop offset="0.9438" stop-color="#810092"/><stop offset="0.9551" stop-color="#7a008b"/><stop offset="0.9596" stop-color="#700080"/><stop offset="0.9663" stop-color="#4b0055"/><stop offset="0.9775" stop-color="#130015"/><stop offset="0.9831" stop-color="#000000"/><stop offset="1.0000" stop-color="#000000"/></linearGradient>
</defs>
<rect width="640" height="440" fill="#fff"/>
<rect x="48" y="28.00" width="267" height="18.21" fill="url(#LbT)"/>
<rect x="48" y="44.71" width="267" height="18.21" fill="url(#Lp)"/>
<rect x="48" y="61.43" width="267" height="18.21" fill="url(#Lo1)"/>
<rect x="48" y="78.14" width="267" height="34.93" fill="url(#Ld)"/>
<rect x="48" y="111.57" width="267" height="18.21" fill="url(#LdN)"/>
<rect x="48" y="128.28" width="267" height="218.78" fill="url(#Ld)"/>
<rect x="48" y="345.56" width="267" height="18.21" fill="url(#Lo2)"/>
<rect x="48" y="362.27" width="267" height="33.43" fill="url(#Lb)"/>
<rect x="328" y="28.00" width="267" height="34.93" fill="url(#Rb)"/>
<rect x="328" y="61.43" width="267" height="18.21" fill="url(#Ro1)"/>
<rect x="48" y="44.06" width="267" height="1.30" fill="url(#bd1)"/>
<rect x="48" y="60.78" width="267" height="1.30" fill="url(#bd2)"/>
<rect x="48" y="77.49" width="267" height="1.30" fill="url(#bd3)"/>
<rect x="48" y="344.91" width="267" height="1.30" fill="url(#bd4)"/>
<rect x="48" y="361.62" width="267" height="1.30" fill="url(#bd5)"/>
<rect x="328" y="78.14" width="267" height="18.21" fill="url(#RdG)"/>
<rect x="328" y="94.85" width="267" height="18.21" fill="url(#Rd)"/>
<rect x="328" y="111.57" width="267" height="18.21" fill="url(#RdC)"/>
<rect x="328" y="128.28" width="267" height="18.21" fill="url(#Rd)"/>
<rect x="328" y="145.00" width="267" height="18.21" fill="url(#RdG)"/>
<rect x="328" y="161.71" width="267" height="18.21" fill="url(#Rd)"/>
<rect x="328" y="178.42" width="267" height="18.21" fill="url(#Rd)"/>
<rect x="328" y="195.14" width="267" height="18.21" fill="url(#RdC)"/>
<rect x="328" y="211.85" width="267" height="18.21" fill="url(#RdG)"/>
<rect x="328" y="228.56" width="267" height="18.21" fill="url(#RdC)"/>
<rect x="328" y="245.28" width="267" height="18.21" fill="url(#RdC)"/>
<rect x="328" y="261.99" width="267" height="18.21" fill="url(#Rd)"/>
<rect x="328" y="278.70" width="267" height="18.21" fill="url(#RdG)"/>
<rect x="328" y="295.42" width="267" height="18.21" fill="url(#Rd)"/>
<rect x="328" y="312.13" width="267" height="18.21" fill="url(#RdC)"/>
<rect x="328" y="328.85" width="267" height="18.21" fill="url(#Rd)"/>
<rect x="328" y="345.56" width="267" height="18.21" fill="url(#Ro2)"/>
<rect x="328" y="362.27" width="267" height="18.21" fill="url(#Rx)"/>
<rect x="328" y="378.99" width="267" height="16.71" fill="url(#RbB)"/>
<rect x="328" y="60.78" width="267" height="1.30" fill="url(#bd6)"/>
<rect x="328" y="77.49" width="267" height="1.30" fill="url(#bd7)"/>
<rect x="328" y="344.91" width="267" height="1.30" fill="url(#bd8)"/>
<rect x="328" y="361.62" width="267" height="1.30" fill="url(#bd9)"/>
<rect x="328" y="378.34" width="267" height="1.30" fill="url(#bd10)"/>
<rect x="47.5" y="78.14" width="2.6" height="176.36" fill="#fff"/>
<rect x="327.5" y="27.50" width="2.4" height="50.64" fill="#fff"/>
<rect x="327.5" y="78.14" width="3.4" height="177.36" fill="#fff"/>
<polyline clip-path="url(#cL)" points="40,248 48,254 53.5,258 64.5,258.6 78,259.7 87.7,258.9 93,256.6 97.2,251.8 100,243.6 102.5,236 105,225 107.5,210 108.9,200 110.6,190 112.6,180 114.9,170 117.6,160 120.8,150 124.5,142 128.5,134 133.5,122 138.5,112 145,108.5 150,105.5 160,99 170,92.5 175,86.5 180,84 185,80 190,80 195,83 200,90 205,99 214,120 221,140 228.6,153.2 235.5,164.1 242.3,173.7 245.7,181.2" fill="none" stroke="#fff" stroke-width="4" stroke-linejoin="round" stroke-linecap="round"/>
<polyline clip-path="url(#cL)" points="104.3,230 107,210 108.5,190 110.3,170 112,150 114.5,140 116.5,134 117.5,125 118.5,118.2 120.9,116.8 124.2,119 127.5,116 129.6,111.6 131.3,110 140,106 150,102 160,96 170,88.5 175,82 180,78.5 185,73.5 187,72.5 190,75 195,77.5 200,83 205,96 210,108" fill="none" stroke="#fff" stroke-width="2.2" stroke-linejoin="round" stroke-linecap="round"/>
<polyline clip-path="url(#cL)" points="269,207 273.8,209 278.4,212.7 282.9,218.2 285.4,221.6 289.5,231.8 293.6,244 297.7,256.3 301.8,266.6 308,274.8 314,277.8 320,279" fill="none" stroke="#fff" stroke-width="3.4" stroke-linejoin="round" stroke-linecap="round"/>
<polygon clip-path="url(#cL)" points="140,105 150,101 160,94.8 170,86.6 175,80.5 180,77 185,71.6 187,70.9 190,73.6 195,75.7 200,80.5 205,91 206,101 200,93.4 195,85 190,81.8 185,82.5 180,86.6 175,88.6 170,94.8 160,101 150,107.7 140,113.2" fill="#fff"/>
<polyline clip-path="url(#cL)" points="149.5,20 149.5,100" fill="none" stroke="#fff" stroke-width="3.2" stroke-linejoin="round" stroke-linecap="round"/>
<polyline clip-path="url(#cL)" points="157.7,75.7 157.7,96" fill="none" stroke="#fff" stroke-width="1.6" stroke-linejoin="round" stroke-linecap="round"/>
<polyline clip-path="url(#cL)" points="277.9,192.7 277.9,210" fill="none" stroke="#fff" stroke-width="1.8" stroke-linejoin="round" stroke-linecap="round"/>
<polyline clip-path="url(#cL)" points="285.2,203.6 285.2,221" fill="none" stroke="#fff" stroke-width="1.8" stroke-linejoin="round" stroke-linecap="round"/>
<polyline clip-path="url(#cL)" points="272,201.8 272,208" fill="none" stroke="#fff" stroke-width="1.8" stroke-linejoin="round" stroke-linecap="round"/>
<polygon clip-path="url(#cL)" points="245.5,184 245.7,64 246.5,61.4 248.5,61.4 250,75 253,95 253.3,127.6 256,127.6 256.5,64 257.5,62.6 259.3,63.5 260.2,70 261,66 262.3,64.5 263.5,66 264.5,80 264.5,125.6 268.6,125.6 270,147 270.6,207 267,207 267,176 264.6,176 263,160 261,159.5 260,175 257.7,174.5 256,170 254,164 252,163.6 251,172 248.5,170.5 247.5,170.5 247,184" fill="#fff"/>
<polyline clip-path="url(#cR)" points="320,253 328,254.8 334.2,256.2 346.5,258.2 360,258.9 368.3,257.5 372.4,254 375.1,247.3 377.8,237.7 380.4,228 382.9,210 384,200 384.6,190 386,180 388.1,170 389.1,160 389.9,150 391.7,140 393.1,130 394.5,120 399.4,110 402.5,100 408,90 411,80 416,70 420.3,62 425,58 430,55 437,52 445,46 455,37 462,31 467,29 472,28 477,33 481,43 485.5,53 489.5,63 493,70 498.5,85 504.5,100 509,108 516.5,120 522,131 526,137" fill="none" stroke="#fff" stroke-width="3.8" stroke-linejoin="round" stroke-linecap="round"/>
<polyline clip-path="url(#cR)" points="393,135 397,120 403,110 405.5,100 410,90 413.5,80 418,72 423,67 429,62 435,57.5 441,53 447,48 455,40 462,34 468,32 474,33 480,37 485,47 489.5,57 493.5,67 498,78 503,89 508.5,100 513.5,110 520,122 524.5,131" fill="none" stroke="#fff" stroke-width="3.4" stroke-linejoin="round" stroke-linecap="round"/>
<polyline clip-path="url(#cR)" points="548.4,163.6 551,168 556,172 561,178 563.5,184 565,190 570.6,205 572.7,215 575.8,231.3 578.9,247.7 580.9,259.1 584.1,267.3 588.6,272.3 592.3,273.8 600,274.6" fill="none" stroke="#fff" stroke-width="3.4" stroke-linejoin="round" stroke-linecap="round"/>
<polyline clip-path="url(#cR)" points="565.1,107 565.1,188" fill="none" stroke="#fff" stroke-width="3.4" stroke-linejoin="round" stroke-linecap="round"/>
<polyline clip-path="url(#cR)" points="558.3,146 558.3,174" fill="none" stroke="#fff" stroke-width="4.5" stroke-linejoin="round" stroke-linecap="round"/>
<polyline clip-path="url(#cR)" points="430,20 430,53" fill="none" stroke="#fff" stroke-width="4" stroke-linejoin="round" stroke-linecap="round"/>
<polyline clip-path="url(#cR)" points="433.2,20 433.2,51.4" fill="none" stroke="#fff" stroke-width="1.4" stroke-linejoin="round" stroke-linecap="round"/>
<polyline clip-path="url(#cR)" points="438.2,34 438.2,50" fill="none" stroke="#fff" stroke-width="2.4" stroke-linejoin="round" stroke-linecap="round"/>
<polygon clip-path="url(#cR)" points="526,140 526,20 549,20 549.5,58 550.4,80 550.4,102 546.7,102 546,80 545.5,70 542,72 540.5,80 540.5,112.7 537,112.7 536.5,80 536.4,70 533,70 533,130 528,140" fill="#fff"/>
<rect x="533.3" y="28" width="3.1" height="18.4" fill="#e90000"/>
<polygon points="545.6,28 548.6,28 548.2,56.7 547,56.7" fill="#e90000"/>
<polyline clip-path="url(#cR)" points="549.3,56 549.3,164" fill="none" stroke="#fff" stroke-width="2.8" stroke-linejoin="round" stroke-linecap="round"/>
<line x1="69" y1="283.60" x2="73.9" y2="283.60" stroke="#fff" stroke-width="1.1"/>
<text x="78.6" y="288.60" class="w">0</text>
<line x1="349" y1="283.60" x2="353.9" y2="283.60" stroke="#fff" stroke-width="1.1"/>
<text x="358.6" y="288.60" class="w">0</text>
<text x="318.4" y="288.60" class="w" text-anchor="end" clip-path="url(#cL)">0</text>
<line x1="69" y1="235.76" x2="73.9" y2="235.76" stroke="#fff" stroke-width="1.1"/>
<text x="78.6" y="240.76" class="w">5</text>
<line x1="349" y1="235.76" x2="353.9" y2="235.76" stroke="#fff" stroke-width="1.1"/>
<text x="358.6" y="240.76" class="w">5</text>
<text x="318.4" y="240.76" class="w" text-anchor="end" clip-path="url(#cL)">5</text>
<line x1="69" y1="187.92" x2="73.9" y2="187.92" stroke="#fff" stroke-width="1.1"/>
<text x="78.6" y="192.92" class="w">10</text>
<line x1="349" y1="187.92" x2="353.9" y2="187.92" stroke="#fff" stroke-width="1.1"/>
<text x="358.6" y="192.92" class="w">10</text>
<text x="318.4" y="192.92" class="w" text-anchor="end" clip-path="url(#cL)">10</text>
<line x1="69" y1="140.08" x2="73.9" y2="140.08" stroke="#fff" stroke-width="1.1"/>
<text x="78.6" y="145.08" class="w">15</text>
<line x1="349" y1="140.08" x2="353.9" y2="140.08" stroke="#fff" stroke-width="1.1"/>
<text x="358.6" y="145.08" class="w">15</text>
<text x="318.4" y="145.08" class="w" text-anchor="end" clip-path="url(#cL)">15</text>
<line x1="69" y1="92.24" x2="73.9" y2="92.24" stroke="#fff" stroke-width="1.1"/>
<text x="78.6" y="97.24" class="w">20</text>
<line x1="349" y1="92.24" x2="353.9" y2="92.24" stroke="#fff" stroke-width="1.1"/>
<text x="358.6" y="97.24" class="w">20</text>
<text x="318.4" y="97.24" class="w" text-anchor="end" clip-path="url(#cL)">20</text>
<line x1="69" y1="44.40" x2="73.9" y2="44.40" stroke="#fff" stroke-width="1.1"/>
<text x="78.6" y="49.40" class="w">25</text>
<line x1="349" y1="44.40" x2="353.9" y2="44.40" stroke="#fff" stroke-width="1.1"/>
<text x="358.6" y="49.40" class="w">25</text>
<text x="318.4" y="49.40" class="w" text-anchor="end" clip-path="url(#cL)">25</text>
<text x="0" y="42.36" text-anchor="end" class="t" transform="translate(32.4,0) scale(0.935,1)">On</text>
<text x="0" y="42.36" class="t" transform="translate(612.3,0) scale(0.935,1)">On</text>
<text x="0" y="59.07" text-anchor="end" class="t" transform="translate(32.4,0) scale(0.935,1)">Y</text>
<text x="0" y="59.07" class="t" transform="translate(612.3,0) scale(0.935,1)">Y</text>
<text x="0" y="75.78" text-anchor="end" class="t" transform="translate(32.4,0) scale(0.935,1)">Off</text>
<text x="0" y="75.78" class="t" transform="translate(612.3,0) scale(0.935,1)">Off</text>
<text x="0" y="92.50" text-anchor="end" class="t" transform="translate(32.4,0) scale(0.935,1)">P</text>
<text x="0" y="92.50" class="t" transform="translate(612.3,0) scale(0.935,1)">P</text>
<text x="0" y="109.21" text-anchor="end" class="t" transform="translate(32.4,0) scale(0.935,1)">O</text>
<text x="0" y="109.21" class="t" transform="translate(612.3,0) scale(0.935,1)">O</text>
<text x="0" y="125.93" text-anchor="end" class="t" transform="translate(32.4,0) scale(0.935,1)">N</text>
<text x="0" y="125.93" class="t" transform="translate(612.3,0) scale(0.935,1)">N</text>
<text x="0" y="142.64" text-anchor="end" class="t" transform="translate(32.4,0) scale(0.935,1)">M</text>
<text x="0" y="142.64" class="t" transform="translate(612.3,0) scale(0.935,1)">M</text>
<text x="0" y="159.35" text-anchor="end" class="t" transform="translate(32.4,0) scale(0.935,1)">L</text>
<text x="0" y="159.35" class="t" transform="translate(612.3,0) scale(0.935,1)">L</text>
<text x="0" y="176.07" text-anchor="end" class="t" transform="translate(32.4,0) scale(0.935,1)">K</text>
<text x="0" y="176.07" class="t" transform="translate(612.3,0) scale(0.935,1)">K</text>
<text x="0" y="192.78" text-anchor="end" class="t" transform="translate(32.4,0) scale(0.935,1)">J</text>
<text x="0" y="192.78" class="t" transform="translate(612.3,0) scale(0.935,1)">J</text>
<text x="0" y="209.49" text-anchor="end" class="t" transform="translate(32.4,0) scale(0.935,1)">I</text>
<text x="0" y="209.49" class="t" transform="translate(612.3,0) scale(0.935,1)">I</text>
<text x="0" y="226.21" text-anchor="end" class="t" transform="translate(32.4,0) scale(0.935,1)">H</text>
<text x="0" y="226.21" class="t" transform="translate(612.3,0) scale(0.935,1)">H</text>
<text x="0" y="242.92" text-anchor="end" class="t" transform="translate(32.4,0) scale(0.935,1)">G</text>
<text x="0" y="242.92" class="t" transform="translate(612.3,0) scale(0.935,1)">G</text>
<text x="0" y="259.63" text-anchor="end" class="t" transform="translate(32.4,0) scale(0.935,1)">F</text>
<text x="0" y="259.63" class="t" transform="translate(612.3,0) scale(0.935,1)">F</text>
<text x="0" y="276.35" text-anchor="end" class="t" transform="translate(32.4,0) scale(0.935,1)">E</text>
<text x="0" y="276.35" class="t" transform="translate(612.3,0) scale(0.935,1)">E</text>
<text x="0" y="293.06" text-anchor="end" class="t" transform="translate(32.4,0) scale(0.935,1)">D</text>
<text x="0" y="293.06" class="t" transform="translate(612.3,0) scale(0.935,1)">D</text>
<text x="0" y="309.78" text-anchor="end" class="t" transform="translate(32.4,0) scale(0.935,1)">C</text>
<text x="0" y="309.78" class="t" transform="translate(612.3,0) scale(0.935,1)">C</text>
<text x="0" y="326.49" text-anchor="end" class="t" transform="translate(32.4,0) scale(0.935,1)">B</text>
<text x="0" y="326.49" class="t" transform="translate(612.3,0) scale(0.935,1)">B</text>
<text x="0" y="343.20" text-anchor="end" class="t" transform="translate(32.4,0) scale(0.935,1)">A</text>
<text x="0" y="343.20" class="t" transform="translate(612.3,0) scale(0.935,1)">A</text>
<text x="0" y="359.92" text-anchor="end" class="t" transform="translate(32.4,0) scale(0.935,1)">Off</text>
<text x="0" y="359.92" class="t" transform="translate(612.3,0) scale(0.935,1)">Off</text>
<text x="0" y="376.63" text-anchor="end" class="t" transform="translate(32.4,0) scale(0.935,1)">X</text>
<text x="0" y="376.63" class="t" transform="translate(612.3,0) scale(0.935,1)">X</text>
<text x="0" y="393.34" text-anchor="end" class="t" transform="translate(32.4,0) scale(0.935,1)">On</text>
<text x="0" y="393.34" class="t" transform="translate(612.3,0) scale(0.935,1)">On</text>
<text x="41.2" y="288.60" class="w" text-anchor="end">0</text>
<text x="41.2" y="240.76" class="w" text-anchor="end">5</text>
<text x="41.2" y="192.92" class="w" text-anchor="end">10</text>
<text x="41.2" y="145.08" class="w" text-anchor="end">15</text>
<text x="41.2" y="97.24" class="w" text-anchor="end">20</text>
<text x="41.2" y="49.40" class="w" text-anchor="end">25</text>
<text x="181.5" y="16.2" text-anchor="middle" class="ti">25.5 (HexE29=1029) X</text>
<text x="461.5" y="16.2" text-anchor="middle" class="ti">25.5 (HexE29=1029) Y</text>
<text transform="translate(2.9,217.5) rotate(-90)" text-anchor="middle" class="t">Dipole</text>
<line x1="49.50" y1="408.3" x2="49.50" y2="413.6" stroke="#000" stroke-width="0.9"/>
<text x="49.15" y="425.7" text-anchor="middle" class="xs">0</text>
<line x1="329.50" y1="408.3" x2="329.50" y2="413.6" stroke="#000" stroke-width="0.9"/>
<text x="329.15" y="425.7" text-anchor="middle" class="xs">0</text>
<line x1="90.17" y1="408.3" x2="90.17" y2="413.6" stroke="#000" stroke-width="0.9"/>
<text x="89.32" y="425.7" text-anchor="middle" class="xs">50</text>
<line x1="370.17" y1="408.3" x2="370.17" y2="413.6" stroke="#000" stroke-width="0.9"/>
<text x="369.32" y="425.7" text-anchor="middle" class="xs">50</text>
<line x1="130.84" y1="408.3" x2="130.84" y2="413.6" stroke="#000" stroke-width="0.9"/>
<text x="129.49" y="425.7" text-anchor="middle" class="xs">100</text>
<line x1="410.84" y1="408.3" x2="410.84" y2="413.6" stroke="#000" stroke-width="0.9"/>
<text x="409.49" y="425.7" text-anchor="middle" class="xs">100</text>
<line x1="171.51" y1="408.3" x2="171.51" y2="413.6" stroke="#000" stroke-width="0.9"/>
<text x="170.16" y="425.7" text-anchor="middle" class="xs">150</text>
<line x1="451.51" y1="408.3" x2="451.51" y2="413.6" stroke="#000" stroke-width="0.9"/>
<text x="450.16" y="425.7" text-anchor="middle" class="xs">150</text>
<line x1="212.18" y1="408.3" x2="212.18" y2="413.6" stroke="#000" stroke-width="0.9"/>
<text x="210.83" y="425.7" text-anchor="middle" class="xs">200</text>
<line x1="492.18" y1="408.3" x2="492.18" y2="413.6" stroke="#000" stroke-width="0.9"/>
<text x="490.83" y="425.7" text-anchor="middle" class="xs">200</text>
<line x1="252.85" y1="408.3" x2="252.85" y2="413.6" stroke="#000" stroke-width="0.9"/>
<text x="251.50" y="425.7" text-anchor="middle" class="xs">250</text>
<line x1="532.85" y1="408.3" x2="532.85" y2="413.6" stroke="#000" stroke-width="0.9"/>
<text x="531.50" y="425.7" text-anchor="middle" class="xs">250</text>
<line x1="293.52" y1="408.3" x2="293.52" y2="413.6" stroke="#000" stroke-width="0.9"/>
<text x="292.17" y="425.7" text-anchor="middle" class="xs">300</text>
<line x1="573.52" y1="408.3" x2="573.52" y2="413.6" stroke="#000" stroke-width="0.9"/>
<text x="572.17" y="425.7" text-anchor="middle" class="xs">300</text>
</svg>
</body></html>
